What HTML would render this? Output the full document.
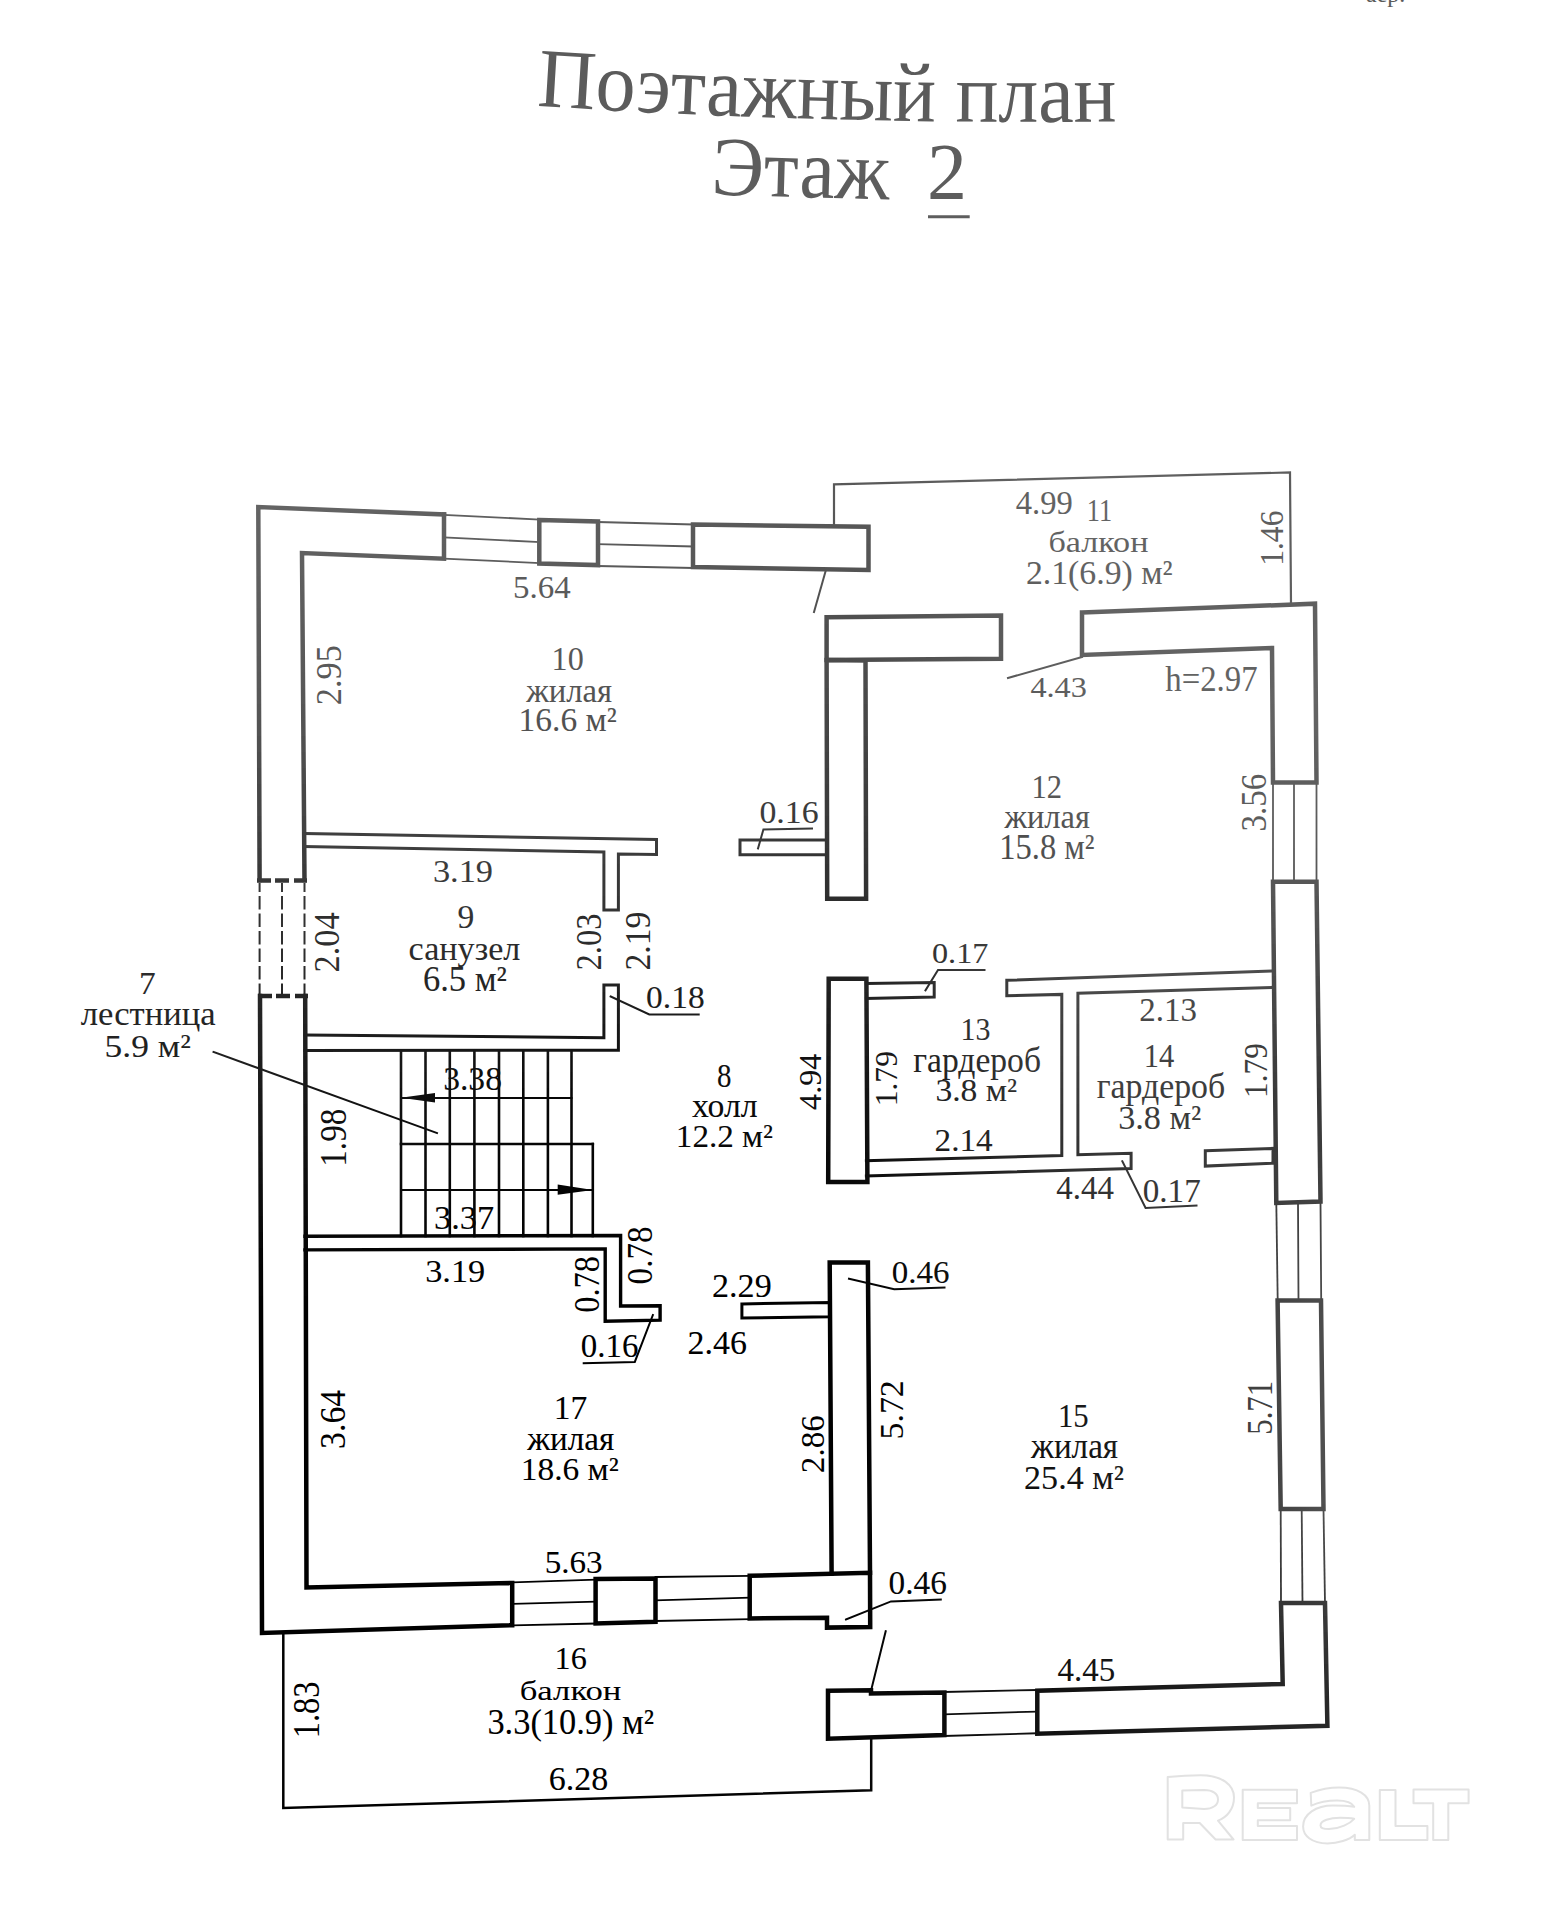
<!DOCTYPE html><html><head><meta charset="utf-8"><style>html,body{margin:0;padding:0;background:#fff;width:1550px;height:1925px;overflow:hidden}svg{position:absolute;left:0;top:0}.ink polyline,.ink polygon{fill:none;stroke:url(#sh);stroke-linejoin:miter;stroke-linecap:square}.ink polygon.f{fill:url(#sh);stroke:none}.ink text{font-family:"Liberation Serif",serif;fill:url(#sh)}</style></head><body>
<svg class="ink" width="1550" height="1925" viewBox="0 0 1550 1925">
<defs><linearGradient id="g0" gradientUnits="userSpaceOnUse" x1="0" y1="0" x2="1550" y2="0"><stop offset="0.0000" stop-color="#5a5a5a"/><stop offset="0.1613" stop-color="#5a5a5a"/><stop offset="0.3548" stop-color="#5a5a5a"/><stop offset="0.5484" stop-color="#5a5a5a"/><stop offset="0.7097" stop-color="#5a5a5a"/><stop offset="0.8516" stop-color="#5a5a5a"/><stop offset="1.0000" stop-color="#5a5a5a"/></linearGradient><linearGradient id="g1" gradientUnits="userSpaceOnUse" x1="0" y1="0" x2="1550" y2="0"><stop offset="0.0000" stop-color="#5a5a5a"/><stop offset="0.1613" stop-color="#5a5a5a"/><stop offset="0.3548" stop-color="#5a5a5a"/><stop offset="0.5484" stop-color="#5a5a5a"/><stop offset="0.7097" stop-color="#5a5a5a"/><stop offset="0.8516" stop-color="#5a5a5a"/><stop offset="1.0000" stop-color="#5a5a5a"/></linearGradient><linearGradient id="g2" gradientUnits="userSpaceOnUse" x1="0" y1="0" x2="1550" y2="0"><stop offset="0.0000" stop-color="#5b5b5b"/><stop offset="0.1613" stop-color="#5b5b5b"/><stop offset="0.3548" stop-color="#5b5b5b"/><stop offset="0.5484" stop-color="#5b5b5b"/><stop offset="0.7097" stop-color="#5b5b5b"/><stop offset="0.8516" stop-color="#5b5b5b"/><stop offset="1.0000" stop-color="#5b5b5b"/></linearGradient><linearGradient id="g3" gradientUnits="userSpaceOnUse" x1="0" y1="0" x2="1550" y2="0"><stop offset="0.0000" stop-color="#5b5b5b"/><stop offset="0.1613" stop-color="#5b5b5b"/><stop offset="0.3548" stop-color="#5b5b5b"/><stop offset="0.5484" stop-color="#5b5b5b"/><stop offset="0.7097" stop-color="#5b5b5b"/><stop offset="0.8516" stop-color="#5b5b5b"/><stop offset="1.0000" stop-color="#5b5b5b"/></linearGradient><linearGradient id="g4" gradientUnits="userSpaceOnUse" x1="0" y1="0" x2="1550" y2="0"><stop offset="0.0000" stop-color="#5b5b5b"/><stop offset="0.1613" stop-color="#5b5b5b"/><stop offset="0.3548" stop-color="#5b5b5b"/><stop offset="0.5484" stop-color="#5b5b5b"/><stop offset="0.7097" stop-color="#5b5b5b"/><stop offset="0.8516" stop-color="#5b5b5b"/><stop offset="1.0000" stop-color="#5b5b5b"/></linearGradient><linearGradient id="g5" gradientUnits="userSpaceOnUse" x1="0" y1="0" x2="1550" y2="0"><stop offset="0.0000" stop-color="#5b5b5b"/><stop offset="0.1613" stop-color="#5b5b5b"/><stop offset="0.3548" stop-color="#5b5b5b"/><stop offset="0.5484" stop-color="#5b5b5b"/><stop offset="0.7097" stop-color="#5b5b5b"/><stop offset="0.8516" stop-color="#5b5b5b"/><stop offset="1.0000" stop-color="#5b5b5b"/></linearGradient><linearGradient id="g6" gradientUnits="userSpaceOnUse" x1="0" y1="0" x2="1550" y2="0"><stop offset="0.0000" stop-color="#5c5c5c"/><stop offset="0.1613" stop-color="#5c5c5c"/><stop offset="0.3548" stop-color="#5c5c5c"/><stop offset="0.5484" stop-color="#5c5c5c"/><stop offset="0.7097" stop-color="#5c5c5c"/><stop offset="0.8516" stop-color="#5c5c5c"/><stop offset="1.0000" stop-color="#5c5c5c"/></linearGradient><linearGradient id="g7" gradientUnits="userSpaceOnUse" x1="0" y1="0" x2="1550" y2="0"><stop offset="0.0000" stop-color="#5c5c5c"/><stop offset="0.1613" stop-color="#5c5c5c"/><stop offset="0.3548" stop-color="#5c5c5c"/><stop offset="0.5484" stop-color="#5c5c5c"/><stop offset="0.7097" stop-color="#5c5c5c"/><stop offset="0.8516" stop-color="#5c5c5c"/><stop offset="1.0000" stop-color="#5c5c5c"/></linearGradient><linearGradient id="g8" gradientUnits="userSpaceOnUse" x1="0" y1="0" x2="1550" y2="0"><stop offset="0.0000" stop-color="#5c5c5c"/><stop offset="0.1613" stop-color="#5c5c5c"/><stop offset="0.3548" stop-color="#5c5c5c"/><stop offset="0.5484" stop-color="#5c5c5c"/><stop offset="0.7097" stop-color="#5c5c5c"/><stop offset="0.8516" stop-color="#5c5c5c"/><stop offset="1.0000" stop-color="#5c5c5c"/></linearGradient><linearGradient id="g9" gradientUnits="userSpaceOnUse" x1="0" y1="0" x2="1550" y2="0"><stop offset="0.0000" stop-color="#5d5d5d"/><stop offset="0.1613" stop-color="#5d5d5d"/><stop offset="0.3548" stop-color="#5d5d5d"/><stop offset="0.5484" stop-color="#5d5d5d"/><stop offset="0.7097" stop-color="#5d5d5d"/><stop offset="0.8516" stop-color="#5d5d5d"/><stop offset="1.0000" stop-color="#5d5d5d"/></linearGradient><linearGradient id="g10" gradientUnits="userSpaceOnUse" x1="0" y1="0" x2="1550" y2="0"><stop offset="0.0000" stop-color="#5d5d5d"/><stop offset="0.1613" stop-color="#5d5d5d"/><stop offset="0.3548" stop-color="#5d5d5d"/><stop offset="0.5484" stop-color="#5d5d5d"/><stop offset="0.7097" stop-color="#5d5d5d"/><stop offset="0.8516" stop-color="#5d5d5d"/><stop offset="1.0000" stop-color="#5d5d5d"/></linearGradient><linearGradient id="g11" gradientUnits="userSpaceOnUse" x1="0" y1="0" x2="1550" y2="0"><stop offset="0.0000" stop-color="#5d5d5d"/><stop offset="0.1613" stop-color="#5d5d5d"/><stop offset="0.3548" stop-color="#5d5d5d"/><stop offset="0.5484" stop-color="#5d5d5d"/><stop offset="0.7097" stop-color="#5d5d5d"/><stop offset="0.8516" stop-color="#5d5d5d"/><stop offset="1.0000" stop-color="#5d5d5d"/></linearGradient><linearGradient id="g12" gradientUnits="userSpaceOnUse" x1="0" y1="0" x2="1550" y2="0"><stop offset="0.0000" stop-color="#5d5d5d"/><stop offset="0.1613" stop-color="#5d5d5d"/><stop offset="0.3548" stop-color="#5d5d5d"/><stop offset="0.5484" stop-color="#5d5d5d"/><stop offset="0.7097" stop-color="#5d5d5d"/><stop offset="0.8516" stop-color="#5d5d5d"/><stop offset="1.0000" stop-color="#5d5d5d"/></linearGradient><linearGradient id="g13" gradientUnits="userSpaceOnUse" x1="0" y1="0" x2="1550" y2="0"><stop offset="0.0000" stop-color="#5e5e5e"/><stop offset="0.1613" stop-color="#5e5e5e"/><stop offset="0.3548" stop-color="#5e5e5e"/><stop offset="0.5484" stop-color="#5e5e5e"/><stop offset="0.7097" stop-color="#5e5e5e"/><stop offset="0.8516" stop-color="#5e5e5e"/><stop offset="1.0000" stop-color="#5e5e5e"/></linearGradient><linearGradient id="g14" gradientUnits="userSpaceOnUse" x1="0" y1="0" x2="1550" y2="0"><stop offset="0.0000" stop-color="#5e5e5e"/><stop offset="0.1613" stop-color="#5e5e5e"/><stop offset="0.3548" stop-color="#5e5e5e"/><stop offset="0.5484" stop-color="#5e5e5e"/><stop offset="0.7097" stop-color="#5e5e5e"/><stop offset="0.8516" stop-color="#5e5e5e"/><stop offset="1.0000" stop-color="#5e5e5e"/></linearGradient><linearGradient id="g15" gradientUnits="userSpaceOnUse" x1="0" y1="0" x2="1550" y2="0"><stop offset="0.0000" stop-color="#5e5e5e"/><stop offset="0.1613" stop-color="#5e5e5e"/><stop offset="0.3548" stop-color="#5e5e5e"/><stop offset="0.5484" stop-color="#5e5e5e"/><stop offset="0.7097" stop-color="#5e5e5e"/><stop offset="0.8516" stop-color="#5e5e5e"/><stop offset="1.0000" stop-color="#5e5e5e"/></linearGradient><linearGradient id="g16" gradientUnits="userSpaceOnUse" x1="0" y1="0" x2="1550" y2="0"><stop offset="0.0000" stop-color="#5e5e5e"/><stop offset="0.1613" stop-color="#5e5e5e"/><stop offset="0.3548" stop-color="#5e5e5e"/><stop offset="0.5484" stop-color="#5e5e5e"/><stop offset="0.7097" stop-color="#5e5e5e"/><stop offset="0.8516" stop-color="#5e5e5e"/><stop offset="1.0000" stop-color="#5e5e5e"/></linearGradient><linearGradient id="g17" gradientUnits="userSpaceOnUse" x1="0" y1="0" x2="1550" y2="0"><stop offset="0.0000" stop-color="#5f5f5f"/><stop offset="0.1613" stop-color="#5f5f5f"/><stop offset="0.3548" stop-color="#5f5f5f"/><stop offset="0.5484" stop-color="#5f5f5f"/><stop offset="0.7097" stop-color="#5f5f5f"/><stop offset="0.8516" stop-color="#5f5f5f"/><stop offset="1.0000" stop-color="#5f5f5f"/></linearGradient><linearGradient id="g18" gradientUnits="userSpaceOnUse" x1="0" y1="0" x2="1550" y2="0"><stop offset="0.0000" stop-color="#5f5f5f"/><stop offset="0.1613" stop-color="#5f5f5f"/><stop offset="0.3548" stop-color="#5f5f5f"/><stop offset="0.5484" stop-color="#5f5f5f"/><stop offset="0.7097" stop-color="#5f5f5f"/><stop offset="0.8516" stop-color="#5f5f5f"/><stop offset="1.0000" stop-color="#5f5f5f"/></linearGradient><linearGradient id="g19" gradientUnits="userSpaceOnUse" x1="0" y1="0" x2="1550" y2="0"><stop offset="0.0000" stop-color="#5f5f5f"/><stop offset="0.1613" stop-color="#5f5f5f"/><stop offset="0.3548" stop-color="#5f5f5f"/><stop offset="0.5484" stop-color="#5f5f5f"/><stop offset="0.7097" stop-color="#5f5f5f"/><stop offset="0.8516" stop-color="#5f5f5f"/><stop offset="1.0000" stop-color="#5f5f5f"/></linearGradient><linearGradient id="g20" gradientUnits="userSpaceOnUse" x1="0" y1="0" x2="1550" y2="0"><stop offset="0.0000" stop-color="#606060"/><stop offset="0.1613" stop-color="#606060"/><stop offset="0.3548" stop-color="#5f5f5f"/><stop offset="0.5484" stop-color="#5e5e5e"/><stop offset="0.7097" stop-color="#606060"/><stop offset="0.8516" stop-color="#5e5e5e"/><stop offset="1.0000" stop-color="#5e5e5e"/></linearGradient><linearGradient id="g21" gradientUnits="userSpaceOnUse" x1="0" y1="0" x2="1550" y2="0"><stop offset="0.0000" stop-color="#606060"/><stop offset="0.1613" stop-color="#606060"/><stop offset="0.3548" stop-color="#5f5f5f"/><stop offset="0.5484" stop-color="#5d5d5d"/><stop offset="0.7097" stop-color="#606060"/><stop offset="0.8516" stop-color="#5e5e5e"/><stop offset="1.0000" stop-color="#5e5e5e"/></linearGradient><linearGradient id="g22" gradientUnits="userSpaceOnUse" x1="0" y1="0" x2="1550" y2="0"><stop offset="0.0000" stop-color="#606060"/><stop offset="0.1613" stop-color="#606060"/><stop offset="0.3548" stop-color="#5f5f5f"/><stop offset="0.5484" stop-color="#5d5d5d"/><stop offset="0.7097" stop-color="#606060"/><stop offset="0.8516" stop-color="#5e5e5e"/><stop offset="1.0000" stop-color="#5e5e5e"/></linearGradient><linearGradient id="g23" gradientUnits="userSpaceOnUse" x1="0" y1="0" x2="1550" y2="0"><stop offset="0.0000" stop-color="#616161"/><stop offset="0.1613" stop-color="#616161"/><stop offset="0.3548" stop-color="#5f5f5f"/><stop offset="0.5484" stop-color="#5c5c5c"/><stop offset="0.7097" stop-color="#616161"/><stop offset="0.8516" stop-color="#5d5d5d"/><stop offset="1.0000" stop-color="#5d5d5d"/></linearGradient><linearGradient id="g24" gradientUnits="userSpaceOnUse" x1="0" y1="0" x2="1550" y2="0"><stop offset="0.0000" stop-color="#616161"/><stop offset="0.1613" stop-color="#616161"/><stop offset="0.3548" stop-color="#5f5f5f"/><stop offset="0.5484" stop-color="#5c5c5c"/><stop offset="0.7097" stop-color="#616161"/><stop offset="0.8516" stop-color="#5d5d5d"/><stop offset="1.0000" stop-color="#5d5d5d"/></linearGradient><linearGradient id="g25" gradientUnits="userSpaceOnUse" x1="0" y1="0" x2="1550" y2="0"><stop offset="0.0000" stop-color="#626262"/><stop offset="0.1613" stop-color="#626262"/><stop offset="0.3548" stop-color="#5f5f5f"/><stop offset="0.5484" stop-color="#5b5b5b"/><stop offset="0.7097" stop-color="#626262"/><stop offset="0.8516" stop-color="#5c5c5c"/><stop offset="1.0000" stop-color="#5c5c5c"/></linearGradient><linearGradient id="g26" gradientUnits="userSpaceOnUse" x1="0" y1="0" x2="1550" y2="0"><stop offset="0.0000" stop-color="#626262"/><stop offset="0.1613" stop-color="#626262"/><stop offset="0.3548" stop-color="#5f5f5f"/><stop offset="0.5484" stop-color="#5b5b5b"/><stop offset="0.7097" stop-color="#626262"/><stop offset="0.8516" stop-color="#5c5c5c"/><stop offset="1.0000" stop-color="#5c5c5c"/></linearGradient><linearGradient id="g27" gradientUnits="userSpaceOnUse" x1="0" y1="0" x2="1550" y2="0"><stop offset="0.0000" stop-color="#626262"/><stop offset="0.1613" stop-color="#626262"/><stop offset="0.3548" stop-color="#5f5f5f"/><stop offset="0.5484" stop-color="#5a5a5a"/><stop offset="0.7097" stop-color="#626262"/><stop offset="0.8516" stop-color="#5c5c5c"/><stop offset="1.0000" stop-color="#5c5c5c"/></linearGradient><linearGradient id="g28" gradientUnits="userSpaceOnUse" x1="0" y1="0" x2="1550" y2="0"><stop offset="0.0000" stop-color="#636363"/><stop offset="0.1613" stop-color="#636363"/><stop offset="0.3548" stop-color="#5f5f5f"/><stop offset="0.5484" stop-color="#5a5a5a"/><stop offset="0.7097" stop-color="#636363"/><stop offset="0.8516" stop-color="#5b5b5b"/><stop offset="1.0000" stop-color="#5b5b5b"/></linearGradient><linearGradient id="g29" gradientUnits="userSpaceOnUse" x1="0" y1="0" x2="1550" y2="0"><stop offset="0.0000" stop-color="#636363"/><stop offset="0.1613" stop-color="#636363"/><stop offset="0.3548" stop-color="#5f5f5f"/><stop offset="0.5484" stop-color="#595959"/><stop offset="0.7097" stop-color="#636363"/><stop offset="0.8516" stop-color="#5b5b5b"/><stop offset="1.0000" stop-color="#5b5b5b"/></linearGradient><linearGradient id="g30" gradientUnits="userSpaceOnUse" x1="0" y1="0" x2="1550" y2="0"><stop offset="0.0000" stop-color="#646464"/><stop offset="0.1613" stop-color="#646464"/><stop offset="0.3548" stop-color="#5f5f5f"/><stop offset="0.5484" stop-color="#585858"/><stop offset="0.7097" stop-color="#646464"/><stop offset="0.8516" stop-color="#5a5a5a"/><stop offset="1.0000" stop-color="#5a5a5a"/></linearGradient><linearGradient id="g31" gradientUnits="userSpaceOnUse" x1="0" y1="0" x2="1550" y2="0"><stop offset="0.0000" stop-color="#646464"/><stop offset="0.1613" stop-color="#646464"/><stop offset="0.3548" stop-color="#5f5f5f"/><stop offset="0.5484" stop-color="#585858"/><stop offset="0.7097" stop-color="#646464"/><stop offset="0.8516" stop-color="#5a5a5a"/><stop offset="1.0000" stop-color="#5a5a5a"/></linearGradient><linearGradient id="g32" gradientUnits="userSpaceOnUse" x1="0" y1="0" x2="1550" y2="0"><stop offset="0.0000" stop-color="#636363"/><stop offset="0.1613" stop-color="#636363"/><stop offset="0.3548" stop-color="#5e5e5e"/><stop offset="0.5484" stop-color="#565656"/><stop offset="0.7097" stop-color="#646464"/><stop offset="0.8516" stop-color="#5b5b5b"/><stop offset="1.0000" stop-color="#5b5b5b"/></linearGradient><linearGradient id="g33" gradientUnits="userSpaceOnUse" x1="0" y1="0" x2="1550" y2="0"><stop offset="0.0000" stop-color="#626262"/><stop offset="0.1613" stop-color="#626262"/><stop offset="0.3548" stop-color="#5d5d5d"/><stop offset="0.5484" stop-color="#555555"/><stop offset="0.7097" stop-color="#646464"/><stop offset="0.8516" stop-color="#5c5c5c"/><stop offset="1.0000" stop-color="#5c5c5c"/></linearGradient><linearGradient id="g34" gradientUnits="userSpaceOnUse" x1="0" y1="0" x2="1550" y2="0"><stop offset="0.0000" stop-color="#616161"/><stop offset="0.1613" stop-color="#616161"/><stop offset="0.3548" stop-color="#5c5c5c"/><stop offset="0.5484" stop-color="#545454"/><stop offset="0.7097" stop-color="#636363"/><stop offset="0.8516" stop-color="#5d5d5d"/><stop offset="1.0000" stop-color="#5d5d5d"/></linearGradient><linearGradient id="g35" gradientUnits="userSpaceOnUse" x1="0" y1="0" x2="1550" y2="0"><stop offset="0.0000" stop-color="#616161"/><stop offset="0.1613" stop-color="#606060"/><stop offset="0.3548" stop-color="#5c5c5c"/><stop offset="0.5484" stop-color="#535353"/><stop offset="0.7097" stop-color="#636363"/><stop offset="0.8516" stop-color="#5d5d5d"/><stop offset="1.0000" stop-color="#5d5d5d"/></linearGradient><linearGradient id="g36" gradientUnits="userSpaceOnUse" x1="0" y1="0" x2="1550" y2="0"><stop offset="0.0000" stop-color="#606060"/><stop offset="0.1613" stop-color="#5f5f5f"/><stop offset="0.3548" stop-color="#5b5b5b"/><stop offset="0.5484" stop-color="#515151"/><stop offset="0.7097" stop-color="#636363"/><stop offset="0.8516" stop-color="#5e5e5e"/><stop offset="1.0000" stop-color="#5e5e5e"/></linearGradient><linearGradient id="g37" gradientUnits="userSpaceOnUse" x1="0" y1="0" x2="1550" y2="0"><stop offset="0.0000" stop-color="#5f5f5f"/><stop offset="0.1613" stop-color="#5e5e5e"/><stop offset="0.3548" stop-color="#5a5a5a"/><stop offset="0.5484" stop-color="#505050"/><stop offset="0.7097" stop-color="#636363"/><stop offset="0.8516" stop-color="#5f5f5f"/><stop offset="1.0000" stop-color="#5f5f5f"/></linearGradient><linearGradient id="g38" gradientUnits="userSpaceOnUse" x1="0" y1="0" x2="1550" y2="0"><stop offset="0.0000" stop-color="#5e5e5e"/><stop offset="0.1613" stop-color="#5d5d5d"/><stop offset="0.3548" stop-color="#595959"/><stop offset="0.5484" stop-color="#4f4f4f"/><stop offset="0.7097" stop-color="#636363"/><stop offset="0.8516" stop-color="#606060"/><stop offset="1.0000" stop-color="#606060"/></linearGradient><linearGradient id="g39" gradientUnits="userSpaceOnUse" x1="0" y1="0" x2="1550" y2="0"><stop offset="0.0000" stop-color="#5d5d5d"/><stop offset="0.1613" stop-color="#5c5c5c"/><stop offset="0.3548" stop-color="#585858"/><stop offset="0.5484" stop-color="#4d4d4d"/><stop offset="0.7097" stop-color="#636363"/><stop offset="0.8516" stop-color="#616161"/><stop offset="1.0000" stop-color="#616161"/></linearGradient><linearGradient id="g40" gradientUnits="userSpaceOnUse" x1="0" y1="0" x2="1550" y2="0"><stop offset="0.0000" stop-color="#5d5d5d"/><stop offset="0.1613" stop-color="#5b5b5b"/><stop offset="0.3548" stop-color="#585858"/><stop offset="0.5484" stop-color="#4c4c4c"/><stop offset="0.7097" stop-color="#636363"/><stop offset="0.8516" stop-color="#616161"/><stop offset="1.0000" stop-color="#616161"/></linearGradient><linearGradient id="g41" gradientUnits="userSpaceOnUse" x1="0" y1="0" x2="1550" y2="0"><stop offset="0.0000" stop-color="#5c5c5c"/><stop offset="0.1613" stop-color="#5a5a5a"/><stop offset="0.3548" stop-color="#575757"/><stop offset="0.5484" stop-color="#4b4b4b"/><stop offset="0.7097" stop-color="#626262"/><stop offset="0.8516" stop-color="#626262"/><stop offset="1.0000" stop-color="#626262"/></linearGradient><linearGradient id="g42" gradientUnits="userSpaceOnUse" x1="0" y1="0" x2="1550" y2="0"><stop offset="0.0000" stop-color="#5b5b5b"/><stop offset="0.1613" stop-color="#595959"/><stop offset="0.3548" stop-color="#565656"/><stop offset="0.5484" stop-color="#4a4a4a"/><stop offset="0.7097" stop-color="#626262"/><stop offset="0.8516" stop-color="#636363"/><stop offset="1.0000" stop-color="#636363"/></linearGradient><linearGradient id="g43" gradientUnits="userSpaceOnUse" x1="0" y1="0" x2="1550" y2="0"><stop offset="0.0000" stop-color="#5a5a5a"/><stop offset="0.1613" stop-color="#585858"/><stop offset="0.3548" stop-color="#555555"/><stop offset="0.5484" stop-color="#484848"/><stop offset="0.7097" stop-color="#626262"/><stop offset="0.8516" stop-color="#646464"/><stop offset="1.0000" stop-color="#646464"/></linearGradient><linearGradient id="g44" gradientUnits="userSpaceOnUse" x1="0" y1="0" x2="1550" y2="0"><stop offset="0.0000" stop-color="#585858"/><stop offset="0.1613" stop-color="#565656"/><stop offset="0.3548" stop-color="#535353"/><stop offset="0.5484" stop-color="#464646"/><stop offset="0.7097" stop-color="#616161"/><stop offset="0.8516" stop-color="#636363"/><stop offset="1.0000" stop-color="#636363"/></linearGradient><linearGradient id="g45" gradientUnits="userSpaceOnUse" x1="0" y1="0" x2="1550" y2="0"><stop offset="0.0000" stop-color="#555555"/><stop offset="0.1613" stop-color="#535353"/><stop offset="0.3548" stop-color="#515151"/><stop offset="0.5484" stop-color="#444444"/><stop offset="0.7097" stop-color="#606060"/><stop offset="0.8516" stop-color="#626262"/><stop offset="1.0000" stop-color="#626262"/></linearGradient><linearGradient id="g46" gradientUnits="userSpaceOnUse" x1="0" y1="0" x2="1550" y2="0"><stop offset="0.0000" stop-color="#525252"/><stop offset="0.1613" stop-color="#505050"/><stop offset="0.3548" stop-color="#4e4e4e"/><stop offset="0.5484" stop-color="#424242"/><stop offset="0.7097" stop-color="#5f5f5f"/><stop offset="0.8516" stop-color="#616161"/><stop offset="1.0000" stop-color="#616161"/></linearGradient><linearGradient id="g47" gradientUnits="userSpaceOnUse" x1="0" y1="0" x2="1550" y2="0"><stop offset="0.0000" stop-color="#505050"/><stop offset="0.1613" stop-color="#4d4d4d"/><stop offset="0.3548" stop-color="#4c4c4c"/><stop offset="0.5484" stop-color="#404040"/><stop offset="0.7097" stop-color="#5e5e5e"/><stop offset="0.8516" stop-color="#606060"/><stop offset="1.0000" stop-color="#606060"/></linearGradient><linearGradient id="g48" gradientUnits="userSpaceOnUse" x1="0" y1="0" x2="1550" y2="0"><stop offset="0.0000" stop-color="#4d4d4d"/><stop offset="0.1613" stop-color="#4a4a4a"/><stop offset="0.3548" stop-color="#4a4a4a"/><stop offset="0.5484" stop-color="#3e3e3e"/><stop offset="0.7097" stop-color="#5d5d5d"/><stop offset="0.8516" stop-color="#5e5e5e"/><stop offset="1.0000" stop-color="#5e5e5e"/></linearGradient><linearGradient id="g49" gradientUnits="userSpaceOnUse" x1="0" y1="0" x2="1550" y2="0"><stop offset="0.0000" stop-color="#4a4a4a"/><stop offset="0.1613" stop-color="#474747"/><stop offset="0.3548" stop-color="#474747"/><stop offset="0.5484" stop-color="#3c3c3c"/><stop offset="0.7097" stop-color="#5c5c5c"/><stop offset="0.8516" stop-color="#5d5d5d"/><stop offset="1.0000" stop-color="#5d5d5d"/></linearGradient><linearGradient id="g50" gradientUnits="userSpaceOnUse" x1="0" y1="0" x2="1550" y2="0"><stop offset="0.0000" stop-color="#474747"/><stop offset="0.1613" stop-color="#454545"/><stop offset="0.3548" stop-color="#454545"/><stop offset="0.5484" stop-color="#393939"/><stop offset="0.7097" stop-color="#5b5b5b"/><stop offset="0.8516" stop-color="#5c5c5c"/><stop offset="1.0000" stop-color="#5c5c5c"/></linearGradient><linearGradient id="g51" gradientUnits="userSpaceOnUse" x1="0" y1="0" x2="1550" y2="0"><stop offset="0.0000" stop-color="#444444"/><stop offset="0.1613" stop-color="#424242"/><stop offset="0.3548" stop-color="#424242"/><stop offset="0.5484" stop-color="#373737"/><stop offset="0.7097" stop-color="#5a5a5a"/><stop offset="0.8516" stop-color="#5b5b5b"/><stop offset="1.0000" stop-color="#5b5b5b"/></linearGradient><linearGradient id="g52" gradientUnits="userSpaceOnUse" x1="0" y1="0" x2="1550" y2="0"><stop offset="0.0000" stop-color="#424242"/><stop offset="0.1613" stop-color="#3f3f3f"/><stop offset="0.3548" stop-color="#404040"/><stop offset="0.5484" stop-color="#353535"/><stop offset="0.7097" stop-color="#595959"/><stop offset="0.8516" stop-color="#5a5a5a"/><stop offset="1.0000" stop-color="#5a5a5a"/></linearGradient><linearGradient id="g53" gradientUnits="userSpaceOnUse" x1="0" y1="0" x2="1550" y2="0"><stop offset="0.0000" stop-color="#3f3f3f"/><stop offset="0.1613" stop-color="#3c3c3c"/><stop offset="0.3548" stop-color="#3e3e3e"/><stop offset="0.5484" stop-color="#333333"/><stop offset="0.7097" stop-color="#585858"/><stop offset="0.8516" stop-color="#585858"/><stop offset="1.0000" stop-color="#585858"/></linearGradient><linearGradient id="g54" gradientUnits="userSpaceOnUse" x1="0" y1="0" x2="1550" y2="0"><stop offset="0.0000" stop-color="#3c3c3c"/><stop offset="0.1613" stop-color="#393939"/><stop offset="0.3548" stop-color="#3b3b3b"/><stop offset="0.5484" stop-color="#313131"/><stop offset="0.7097" stop-color="#575757"/><stop offset="0.8516" stop-color="#575757"/><stop offset="1.0000" stop-color="#575757"/></linearGradient><linearGradient id="g55" gradientUnits="userSpaceOnUse" x1="0" y1="0" x2="1550" y2="0"><stop offset="0.0000" stop-color="#393939"/><stop offset="0.1613" stop-color="#363636"/><stop offset="0.3548" stop-color="#393939"/><stop offset="0.5484" stop-color="#2f2f2f"/><stop offset="0.7097" stop-color="#565656"/><stop offset="0.8516" stop-color="#565656"/><stop offset="1.0000" stop-color="#565656"/></linearGradient><linearGradient id="g56" gradientUnits="userSpaceOnUse" x1="0" y1="0" x2="1550" y2="0"><stop offset="0.0000" stop-color="#363636"/><stop offset="0.1613" stop-color="#333333"/><stop offset="0.3548" stop-color="#363636"/><stop offset="0.5484" stop-color="#2c2c2c"/><stop offset="0.7097" stop-color="#555555"/><stop offset="0.8516" stop-color="#545454"/><stop offset="1.0000" stop-color="#545454"/></linearGradient><linearGradient id="g57" gradientUnits="userSpaceOnUse" x1="0" y1="0" x2="1550" y2="0"><stop offset="0.0000" stop-color="#343434"/><stop offset="0.1613" stop-color="#313131"/><stop offset="0.3548" stop-color="#323232"/><stop offset="0.5484" stop-color="#2a2a2a"/><stop offset="0.7097" stop-color="#535353"/><stop offset="0.8516" stop-color="#525252"/><stop offset="1.0000" stop-color="#525252"/></linearGradient><linearGradient id="g58" gradientUnits="userSpaceOnUse" x1="0" y1="0" x2="1550" y2="0"><stop offset="0.0000" stop-color="#323232"/><stop offset="0.1613" stop-color="#2f2f2f"/><stop offset="0.3548" stop-color="#2e2e2e"/><stop offset="0.5484" stop-color="#282828"/><stop offset="0.7097" stop-color="#515151"/><stop offset="0.8516" stop-color="#505050"/><stop offset="1.0000" stop-color="#505050"/></linearGradient><linearGradient id="g59" gradientUnits="userSpaceOnUse" x1="0" y1="0" x2="1550" y2="0"><stop offset="0.0000" stop-color="#2f2f2f"/><stop offset="0.1613" stop-color="#2d2d2d"/><stop offset="0.3548" stop-color="#2a2a2a"/><stop offset="0.5484" stop-color="#252525"/><stop offset="0.7097" stop-color="#4f4f4f"/><stop offset="0.8516" stop-color="#4d4d4d"/><stop offset="1.0000" stop-color="#4d4d4d"/></linearGradient><linearGradient id="g60" gradientUnits="userSpaceOnUse" x1="0" y1="0" x2="1550" y2="0"><stop offset="0.0000" stop-color="#2d2d2d"/><stop offset="0.1613" stop-color="#2b2b2b"/><stop offset="0.3548" stop-color="#262626"/><stop offset="0.5484" stop-color="#232323"/><stop offset="0.7097" stop-color="#4d4d4d"/><stop offset="0.8516" stop-color="#4b4b4b"/><stop offset="1.0000" stop-color="#4b4b4b"/></linearGradient><linearGradient id="g61" gradientUnits="userSpaceOnUse" x1="0" y1="0" x2="1550" y2="0"><stop offset="0.0000" stop-color="#2a2a2a"/><stop offset="0.1613" stop-color="#292929"/><stop offset="0.3548" stop-color="#222222"/><stop offset="0.5484" stop-color="#202020"/><stop offset="0.7097" stop-color="#4b4b4b"/><stop offset="0.8516" stop-color="#484848"/><stop offset="1.0000" stop-color="#484848"/></linearGradient><linearGradient id="g62" gradientUnits="userSpaceOnUse" x1="0" y1="0" x2="1550" y2="0"><stop offset="0.0000" stop-color="#282828"/><stop offset="0.1613" stop-color="#262626"/><stop offset="0.3548" stop-color="#1e1e1e"/><stop offset="0.5484" stop-color="#1e1e1e"/><stop offset="0.7097" stop-color="#4a4a4a"/><stop offset="0.8516" stop-color="#464646"/><stop offset="1.0000" stop-color="#464646"/></linearGradient><linearGradient id="g63" gradientUnits="userSpaceOnUse" x1="0" y1="0" x2="1550" y2="0"><stop offset="0.0000" stop-color="#262626"/><stop offset="0.1613" stop-color="#242424"/><stop offset="0.3548" stop-color="#1a1a1a"/><stop offset="0.5484" stop-color="#1c1c1c"/><stop offset="0.7097" stop-color="#484848"/><stop offset="0.8516" stop-color="#444444"/><stop offset="1.0000" stop-color="#444444"/></linearGradient><linearGradient id="g64" gradientUnits="userSpaceOnUse" x1="0" y1="0" x2="1550" y2="0"><stop offset="0.0000" stop-color="#232323"/><stop offset="0.1613" stop-color="#222222"/><stop offset="0.3548" stop-color="#161616"/><stop offset="0.5484" stop-color="#191919"/><stop offset="0.7097" stop-color="#464646"/><stop offset="0.8516" stop-color="#414141"/><stop offset="1.0000" stop-color="#414141"/></linearGradient><linearGradient id="g65" gradientUnits="userSpaceOnUse" x1="0" y1="0" x2="1550" y2="0"><stop offset="0.0000" stop-color="#212121"/><stop offset="0.1613" stop-color="#202020"/><stop offset="0.3548" stop-color="#121212"/><stop offset="0.5484" stop-color="#171717"/><stop offset="0.7097" stop-color="#444444"/><stop offset="0.8516" stop-color="#3f3f3f"/><stop offset="1.0000" stop-color="#3f3f3f"/></linearGradient><linearGradient id="g66" gradientUnits="userSpaceOnUse" x1="0" y1="0" x2="1550" y2="0"><stop offset="0.0000" stop-color="#1e1e1e"/><stop offset="0.1613" stop-color="#1e1e1e"/><stop offset="0.3548" stop-color="#0e0e0e"/><stop offset="0.5484" stop-color="#141414"/><stop offset="0.7097" stop-color="#424242"/><stop offset="0.8516" stop-color="#3c3c3c"/><stop offset="1.0000" stop-color="#3c3c3c"/></linearGradient><linearGradient id="g67" gradientUnits="userSpaceOnUse" x1="0" y1="0" x2="1550" y2="0"><stop offset="0.0000" stop-color="#1c1c1c"/><stop offset="0.1613" stop-color="#1c1c1c"/><stop offset="0.3548" stop-color="#0a0a0a"/><stop offset="0.5484" stop-color="#121212"/><stop offset="0.7097" stop-color="#404040"/><stop offset="0.8516" stop-color="#3a3a3a"/><stop offset="1.0000" stop-color="#3a3a3a"/></linearGradient><linearGradient id="g68" gradientUnits="userSpaceOnUse" x1="0" y1="0" x2="1550" y2="0"><stop offset="0.0000" stop-color="#1a1a1a"/><stop offset="0.1613" stop-color="#1a1a1a"/><stop offset="0.3548" stop-color="#060606"/><stop offset="0.5484" stop-color="#101010"/><stop offset="0.7097" stop-color="#3e3e3e"/><stop offset="0.8516" stop-color="#383838"/><stop offset="1.0000" stop-color="#383838"/></linearGradient><linearGradient id="g69" gradientUnits="userSpaceOnUse" x1="0" y1="0" x2="1550" y2="0"><stop offset="0.0000" stop-color="#181818"/><stop offset="0.1613" stop-color="#181818"/><stop offset="0.3548" stop-color="#050505"/><stop offset="0.5484" stop-color="#0e0e0e"/><stop offset="0.7097" stop-color="#3c3c3c"/><stop offset="0.8516" stop-color="#383838"/><stop offset="1.0000" stop-color="#383838"/></linearGradient><linearGradient id="g70" gradientUnits="userSpaceOnUse" x1="0" y1="0" x2="1550" y2="0"><stop offset="0.0000" stop-color="#161616"/><stop offset="0.1613" stop-color="#161616"/><stop offset="0.3548" stop-color="#040404"/><stop offset="0.5484" stop-color="#0d0d0d"/><stop offset="0.7097" stop-color="#3a3a3a"/><stop offset="0.8516" stop-color="#3a3a3a"/><stop offset="1.0000" stop-color="#3a3a3a"/></linearGradient><linearGradient id="g71" gradientUnits="userSpaceOnUse" x1="0" y1="0" x2="1550" y2="0"><stop offset="0.0000" stop-color="#141414"/><stop offset="0.1613" stop-color="#141414"/><stop offset="0.3548" stop-color="#040404"/><stop offset="0.5484" stop-color="#0c0c0c"/><stop offset="0.7097" stop-color="#383838"/><stop offset="0.8516" stop-color="#3b3b3b"/><stop offset="1.0000" stop-color="#3b3b3b"/></linearGradient><linearGradient id="g72" gradientUnits="userSpaceOnUse" x1="0" y1="0" x2="1550" y2="0"><stop offset="0.0000" stop-color="#121212"/><stop offset="0.1613" stop-color="#121212"/><stop offset="0.3548" stop-color="#040404"/><stop offset="0.5484" stop-color="#0a0a0a"/><stop offset="0.7097" stop-color="#363636"/><stop offset="0.8516" stop-color="#3d3d3d"/><stop offset="1.0000" stop-color="#3d3d3d"/></linearGradient><linearGradient id="g73" gradientUnits="userSpaceOnUse" x1="0" y1="0" x2="1550" y2="0"><stop offset="0.0000" stop-color="#101010"/><stop offset="0.1613" stop-color="#101010"/><stop offset="0.3548" stop-color="#030303"/><stop offset="0.5484" stop-color="#090909"/><stop offset="0.7097" stop-color="#343434"/><stop offset="0.8516" stop-color="#3f3f3f"/><stop offset="1.0000" stop-color="#3f3f3f"/></linearGradient><linearGradient id="g74" gradientUnits="userSpaceOnUse" x1="0" y1="0" x2="1550" y2="0"><stop offset="0.0000" stop-color="#0e0e0e"/><stop offset="0.1613" stop-color="#0e0e0e"/><stop offset="0.3548" stop-color="#030303"/><stop offset="0.5484" stop-color="#080808"/><stop offset="0.7097" stop-color="#323232"/><stop offset="0.8516" stop-color="#404040"/><stop offset="1.0000" stop-color="#404040"/></linearGradient><linearGradient id="g75" gradientUnits="userSpaceOnUse" x1="0" y1="0" x2="1550" y2="0"><stop offset="0.0000" stop-color="#0c0c0c"/><stop offset="0.1613" stop-color="#0c0c0c"/><stop offset="0.3548" stop-color="#020202"/><stop offset="0.5484" stop-color="#070707"/><stop offset="0.7097" stop-color="#2f2f2f"/><stop offset="0.8516" stop-color="#424242"/><stop offset="1.0000" stop-color="#424242"/></linearGradient><linearGradient id="g76" gradientUnits="userSpaceOnUse" x1="0" y1="0" x2="1550" y2="0"><stop offset="0.0000" stop-color="#0a0a0a"/><stop offset="0.1613" stop-color="#0a0a0a"/><stop offset="0.3548" stop-color="#020202"/><stop offset="0.5484" stop-color="#060606"/><stop offset="0.7097" stop-color="#2d2d2d"/><stop offset="0.8516" stop-color="#434343"/><stop offset="1.0000" stop-color="#434343"/></linearGradient><linearGradient id="g77" gradientUnits="userSpaceOnUse" x1="0" y1="0" x2="1550" y2="0"><stop offset="0.0000" stop-color="#080808"/><stop offset="0.1613" stop-color="#080808"/><stop offset="0.3548" stop-color="#020202"/><stop offset="0.5484" stop-color="#050505"/><stop offset="0.7097" stop-color="#2b2b2b"/><stop offset="0.8516" stop-color="#454545"/><stop offset="1.0000" stop-color="#454545"/></linearGradient><linearGradient id="g78" gradientUnits="userSpaceOnUse" x1="0" y1="0" x2="1550" y2="0"><stop offset="0.0000" stop-color="#050505"/><stop offset="0.1613" stop-color="#050505"/><stop offset="0.3548" stop-color="#010101"/><stop offset="0.5484" stop-color="#030303"/><stop offset="0.7097" stop-color="#292929"/><stop offset="0.8516" stop-color="#474747"/><stop offset="1.0000" stop-color="#474747"/></linearGradient><linearGradient id="g79" gradientUnits="userSpaceOnUse" x1="0" y1="0" x2="1550" y2="0"><stop offset="0.0000" stop-color="#040404"/><stop offset="0.1613" stop-color="#040404"/><stop offset="0.3548" stop-color="#010101"/><stop offset="0.5484" stop-color="#020202"/><stop offset="0.7097" stop-color="#272727"/><stop offset="0.8516" stop-color="#484848"/><stop offset="1.0000" stop-color="#484848"/></linearGradient><linearGradient id="g80" gradientUnits="userSpaceOnUse" x1="0" y1="0" x2="1550" y2="0"><stop offset="0.0000" stop-color="#020202"/><stop offset="0.1613" stop-color="#020202"/><stop offset="0.3548" stop-color="#000000"/><stop offset="0.5484" stop-color="#010101"/><stop offset="0.7097" stop-color="#252525"/><stop offset="0.8516" stop-color="#4a4a4a"/><stop offset="1.0000" stop-color="#4a4a4a"/></linearGradient><linearGradient id="g81" gradientUnits="userSpaceOnUse" x1="0" y1="0" x2="1550" y2="0"><stop offset="0.0000" stop-color="#000000"/><stop offset="0.1613" stop-color="#000000"/><stop offset="0.3548" stop-color="#000000"/><stop offset="0.5484" stop-color="#000000"/><stop offset="0.7097" stop-color="#232323"/><stop offset="0.8516" stop-color="#4b4b4b"/><stop offset="1.0000" stop-color="#4b4b4b"/></linearGradient><linearGradient id="g82" gradientUnits="userSpaceOnUse" x1="0" y1="0" x2="1550" y2="0"><stop offset="0.0000" stop-color="#000000"/><stop offset="0.1613" stop-color="#000000"/><stop offset="0.3548" stop-color="#000000"/><stop offset="0.5484" stop-color="#000000"/><stop offset="0.7097" stop-color="#222222"/><stop offset="0.8516" stop-color="#4c4c4c"/><stop offset="1.0000" stop-color="#4c4c4c"/></linearGradient><linearGradient id="g83" gradientUnits="userSpaceOnUse" x1="0" y1="0" x2="1550" y2="0"><stop offset="0.0000" stop-color="#000000"/><stop offset="0.1613" stop-color="#000000"/><stop offset="0.3548" stop-color="#000000"/><stop offset="0.5484" stop-color="#000000"/><stop offset="0.7097" stop-color="#202020"/><stop offset="0.8516" stop-color="#4c4c4c"/><stop offset="1.0000" stop-color="#4c4c4c"/></linearGradient><linearGradient id="g84" gradientUnits="userSpaceOnUse" x1="0" y1="0" x2="1550" y2="0"><stop offset="0.0000" stop-color="#000000"/><stop offset="0.1613" stop-color="#000000"/><stop offset="0.3548" stop-color="#000000"/><stop offset="0.5484" stop-color="#000000"/><stop offset="0.7097" stop-color="#1f1f1f"/><stop offset="0.8516" stop-color="#4c4c4c"/><stop offset="1.0000" stop-color="#4c4c4c"/></linearGradient><linearGradient id="g85" gradientUnits="userSpaceOnUse" x1="0" y1="0" x2="1550" y2="0"><stop offset="0.0000" stop-color="#000000"/><stop offset="0.1613" stop-color="#000000"/><stop offset="0.3548" stop-color="#000000"/><stop offset="0.5484" stop-color="#000000"/><stop offset="0.7097" stop-color="#1e1e1e"/><stop offset="0.8516" stop-color="#4d4d4d"/><stop offset="1.0000" stop-color="#4d4d4d"/></linearGradient><linearGradient id="g86" gradientUnits="userSpaceOnUse" x1="0" y1="0" x2="1550" y2="0"><stop offset="0.0000" stop-color="#000000"/><stop offset="0.1613" stop-color="#000000"/><stop offset="0.3548" stop-color="#000000"/><stop offset="0.5484" stop-color="#000000"/><stop offset="0.7097" stop-color="#1d1d1d"/><stop offset="0.8516" stop-color="#4d4d4d"/><stop offset="1.0000" stop-color="#4d4d4d"/></linearGradient><linearGradient id="g87" gradientUnits="userSpaceOnUse" x1="0" y1="0" x2="1550" y2="0"><stop offset="0.0000" stop-color="#000000"/><stop offset="0.1613" stop-color="#000000"/><stop offset="0.3548" stop-color="#000000"/><stop offset="0.5484" stop-color="#000000"/><stop offset="0.7097" stop-color="#1c1c1c"/><stop offset="0.8516" stop-color="#4e4e4e"/><stop offset="1.0000" stop-color="#4e4e4e"/></linearGradient><linearGradient id="g88" gradientUnits="userSpaceOnUse" x1="0" y1="0" x2="1550" y2="0"><stop offset="0.0000" stop-color="#000000"/><stop offset="0.1613" stop-color="#000000"/><stop offset="0.3548" stop-color="#000000"/><stop offset="0.5484" stop-color="#000000"/><stop offset="0.7097" stop-color="#1a1a1a"/><stop offset="0.8516" stop-color="#4e4e4e"/><stop offset="1.0000" stop-color="#4e4e4e"/></linearGradient><linearGradient id="g89" gradientUnits="userSpaceOnUse" x1="0" y1="0" x2="1550" y2="0"><stop offset="0.0000" stop-color="#000000"/><stop offset="0.1613" stop-color="#000000"/><stop offset="0.3548" stop-color="#000000"/><stop offset="0.5484" stop-color="#000000"/><stop offset="0.7097" stop-color="#191919"/><stop offset="0.8516" stop-color="#4e4e4e"/><stop offset="1.0000" stop-color="#4e4e4e"/></linearGradient><linearGradient id="g90" gradientUnits="userSpaceOnUse" x1="0" y1="0" x2="1550" y2="0"><stop offset="0.0000" stop-color="#000000"/><stop offset="0.1613" stop-color="#000000"/><stop offset="0.3548" stop-color="#000000"/><stop offset="0.5484" stop-color="#000000"/><stop offset="0.7097" stop-color="#181818"/><stop offset="0.8516" stop-color="#4f4f4f"/><stop offset="1.0000" stop-color="#4f4f4f"/></linearGradient><linearGradient id="g91" gradientUnits="userSpaceOnUse" x1="0" y1="0" x2="1550" y2="0"><stop offset="0.0000" stop-color="#000000"/><stop offset="0.1613" stop-color="#000000"/><stop offset="0.3548" stop-color="#000000"/><stop offset="0.5484" stop-color="#000000"/><stop offset="0.7097" stop-color="#171717"/><stop offset="0.8516" stop-color="#4f4f4f"/><stop offset="1.0000" stop-color="#4f4f4f"/></linearGradient><linearGradient id="g92" gradientUnits="userSpaceOnUse" x1="0" y1="0" x2="1550" y2="0"><stop offset="0.0000" stop-color="#000000"/><stop offset="0.1613" stop-color="#000000"/><stop offset="0.3548" stop-color="#000000"/><stop offset="0.5484" stop-color="#000000"/><stop offset="0.7097" stop-color="#161616"/><stop offset="0.8516" stop-color="#505050"/><stop offset="1.0000" stop-color="#505050"/></linearGradient><linearGradient id="g93" gradientUnits="userSpaceOnUse" x1="0" y1="0" x2="1550" y2="0"><stop offset="0.0000" stop-color="#000000"/><stop offset="0.1613" stop-color="#000000"/><stop offset="0.3548" stop-color="#000000"/><stop offset="0.5484" stop-color="#000000"/><stop offset="0.7097" stop-color="#141414"/><stop offset="0.8516" stop-color="#505050"/><stop offset="1.0000" stop-color="#505050"/></linearGradient><linearGradient id="g94" gradientUnits="userSpaceOnUse" x1="0" y1="0" x2="1550" y2="0"><stop offset="0.0000" stop-color="#000000"/><stop offset="0.1613" stop-color="#000000"/><stop offset="0.3548" stop-color="#000000"/><stop offset="0.5484" stop-color="#000000"/><stop offset="0.7097" stop-color="#141414"/><stop offset="0.8516" stop-color="#4e4e4e"/><stop offset="1.0000" stop-color="#4e4e4e"/></linearGradient><linearGradient id="g95" gradientUnits="userSpaceOnUse" x1="0" y1="0" x2="1550" y2="0"><stop offset="0.0000" stop-color="#000000"/><stop offset="0.1613" stop-color="#000000"/><stop offset="0.3548" stop-color="#000000"/><stop offset="0.5484" stop-color="#010101"/><stop offset="0.7097" stop-color="#141414"/><stop offset="0.8516" stop-color="#4a4a4a"/><stop offset="1.0000" stop-color="#4a4a4a"/></linearGradient><linearGradient id="g96" gradientUnits="userSpaceOnUse" x1="0" y1="0" x2="1550" y2="0"><stop offset="0.0000" stop-color="#000000"/><stop offset="0.1613" stop-color="#000000"/><stop offset="0.3548" stop-color="#000000"/><stop offset="0.5484" stop-color="#010101"/><stop offset="0.7097" stop-color="#141414"/><stop offset="0.8516" stop-color="#474747"/><stop offset="1.0000" stop-color="#474747"/></linearGradient><linearGradient id="g97" gradientUnits="userSpaceOnUse" x1="0" y1="0" x2="1550" y2="0"><stop offset="0.0000" stop-color="#000000"/><stop offset="0.1613" stop-color="#000000"/><stop offset="0.3548" stop-color="#000000"/><stop offset="0.5484" stop-color="#020202"/><stop offset="0.7097" stop-color="#141414"/><stop offset="0.8516" stop-color="#444444"/><stop offset="1.0000" stop-color="#444444"/></linearGradient><linearGradient id="g98" gradientUnits="userSpaceOnUse" x1="0" y1="0" x2="1550" y2="0"><stop offset="0.0000" stop-color="#000000"/><stop offset="0.1613" stop-color="#000000"/><stop offset="0.3548" stop-color="#000000"/><stop offset="0.5484" stop-color="#020202"/><stop offset="0.7097" stop-color="#141414"/><stop offset="0.8516" stop-color="#414141"/><stop offset="1.0000" stop-color="#414141"/></linearGradient><linearGradient id="g99" gradientUnits="userSpaceOnUse" x1="0" y1="0" x2="1550" y2="0"><stop offset="0.0000" stop-color="#000000"/><stop offset="0.1613" stop-color="#000000"/><stop offset="0.3548" stop-color="#000000"/><stop offset="0.5484" stop-color="#020202"/><stop offset="0.7097" stop-color="#141414"/><stop offset="0.8516" stop-color="#3e3e3e"/><stop offset="1.0000" stop-color="#3e3e3e"/></linearGradient><linearGradient id="g100" gradientUnits="userSpaceOnUse" x1="0" y1="0" x2="1550" y2="0"><stop offset="0.0000" stop-color="#000000"/><stop offset="0.1613" stop-color="#000000"/><stop offset="0.3548" stop-color="#000000"/><stop offset="0.5484" stop-color="#030303"/><stop offset="0.7097" stop-color="#141414"/><stop offset="0.8516" stop-color="#3a3a3a"/><stop offset="1.0000" stop-color="#3a3a3a"/></linearGradient><linearGradient id="g101" gradientUnits="userSpaceOnUse" x1="0" y1="0" x2="1550" y2="0"><stop offset="0.0000" stop-color="#000000"/><stop offset="0.1613" stop-color="#000000"/><stop offset="0.3548" stop-color="#000000"/><stop offset="0.5484" stop-color="#030303"/><stop offset="0.7097" stop-color="#141414"/><stop offset="0.8516" stop-color="#373737"/><stop offset="1.0000" stop-color="#373737"/></linearGradient><linearGradient id="g102" gradientUnits="userSpaceOnUse" x1="0" y1="0" x2="1550" y2="0"><stop offset="0.0000" stop-color="#000000"/><stop offset="0.1613" stop-color="#000000"/><stop offset="0.3548" stop-color="#000000"/><stop offset="0.5484" stop-color="#040404"/><stop offset="0.7097" stop-color="#141414"/><stop offset="0.8516" stop-color="#343434"/><stop offset="1.0000" stop-color="#343434"/></linearGradient><linearGradient id="g103" gradientUnits="userSpaceOnUse" x1="0" y1="0" x2="1550" y2="0"><stop offset="0.0000" stop-color="#000000"/><stop offset="0.1613" stop-color="#000000"/><stop offset="0.3548" stop-color="#000000"/><stop offset="0.5484" stop-color="#040404"/><stop offset="0.7097" stop-color="#141414"/><stop offset="0.8516" stop-color="#313131"/><stop offset="1.0000" stop-color="#313131"/></linearGradient><linearGradient id="g104" gradientUnits="userSpaceOnUse" x1="0" y1="0" x2="1550" y2="0"><stop offset="0.0000" stop-color="#000000"/><stop offset="0.1613" stop-color="#000000"/><stop offset="0.3548" stop-color="#000000"/><stop offset="0.5484" stop-color="#040404"/><stop offset="0.7097" stop-color="#141414"/><stop offset="0.8516" stop-color="#2e2e2e"/><stop offset="1.0000" stop-color="#2e2e2e"/></linearGradient><linearGradient id="g105" gradientUnits="userSpaceOnUse" x1="0" y1="0" x2="1550" y2="0"><stop offset="0.0000" stop-color="#000000"/><stop offset="0.1613" stop-color="#000000"/><stop offset="0.3548" stop-color="#000000"/><stop offset="0.5484" stop-color="#050505"/><stop offset="0.7097" stop-color="#141414"/><stop offset="0.8516" stop-color="#2a2a2a"/><stop offset="1.0000" stop-color="#2a2a2a"/></linearGradient><linearGradient id="g106" gradientUnits="userSpaceOnUse" x1="0" y1="0" x2="1550" y2="0"><stop offset="0.0000" stop-color="#000000"/><stop offset="0.1613" stop-color="#000000"/><stop offset="0.3548" stop-color="#000000"/><stop offset="0.5484" stop-color="#050505"/><stop offset="0.7097" stop-color="#141414"/><stop offset="0.8516" stop-color="#282828"/><stop offset="1.0000" stop-color="#282828"/></linearGradient><linearGradient id="g107" gradientUnits="userSpaceOnUse" x1="0" y1="0" x2="1550" y2="0"><stop offset="0.0000" stop-color="#000000"/><stop offset="0.1613" stop-color="#000000"/><stop offset="0.3548" stop-color="#000000"/><stop offset="0.5484" stop-color="#050505"/><stop offset="0.7097" stop-color="#141414"/><stop offset="0.8516" stop-color="#282828"/><stop offset="1.0000" stop-color="#282828"/></linearGradient><linearGradient id="g108" gradientUnits="userSpaceOnUse" x1="0" y1="0" x2="1550" y2="0"><stop offset="0.0000" stop-color="#000000"/><stop offset="0.1613" stop-color="#000000"/><stop offset="0.3548" stop-color="#000000"/><stop offset="0.5484" stop-color="#050505"/><stop offset="0.7097" stop-color="#141414"/><stop offset="0.8516" stop-color="#282828"/><stop offset="1.0000" stop-color="#282828"/></linearGradient><linearGradient id="g109" gradientUnits="userSpaceOnUse" x1="0" y1="0" x2="1550" y2="0"><stop offset="0.0000" stop-color="#000000"/><stop offset="0.1613" stop-color="#000000"/><stop offset="0.3548" stop-color="#000000"/><stop offset="0.5484" stop-color="#050505"/><stop offset="0.7097" stop-color="#141414"/><stop offset="0.8516" stop-color="#282828"/><stop offset="1.0000" stop-color="#282828"/></linearGradient><linearGradient id="g110" gradientUnits="userSpaceOnUse" x1="0" y1="0" x2="1550" y2="0"><stop offset="0.0000" stop-color="#000000"/><stop offset="0.1613" stop-color="#000000"/><stop offset="0.3548" stop-color="#000000"/><stop offset="0.5484" stop-color="#050505"/><stop offset="0.7097" stop-color="#141414"/><stop offset="0.8516" stop-color="#282828"/><stop offset="1.0000" stop-color="#282828"/></linearGradient><linearGradient id="g111" gradientUnits="userSpaceOnUse" x1="0" y1="0" x2="1550" y2="0"><stop offset="0.0000" stop-color="#000000"/><stop offset="0.1613" stop-color="#000000"/><stop offset="0.3548" stop-color="#000000"/><stop offset="0.5484" stop-color="#050505"/><stop offset="0.7097" stop-color="#141414"/><stop offset="0.8516" stop-color="#282828"/><stop offset="1.0000" stop-color="#282828"/></linearGradient><linearGradient id="g112" gradientUnits="userSpaceOnUse" x1="0" y1="0" x2="1550" y2="0"><stop offset="0.0000" stop-color="#000000"/><stop offset="0.1613" stop-color="#000000"/><stop offset="0.3548" stop-color="#000000"/><stop offset="0.5484" stop-color="#050505"/><stop offset="0.7097" stop-color="#141414"/><stop offset="0.8516" stop-color="#282828"/><stop offset="1.0000" stop-color="#282828"/></linearGradient><linearGradient id="g113" gradientUnits="userSpaceOnUse" x1="0" y1="0" x2="1550" y2="0"><stop offset="0.0000" stop-color="#000000"/><stop offset="0.1613" stop-color="#000000"/><stop offset="0.3548" stop-color="#000000"/><stop offset="0.5484" stop-color="#050505"/><stop offset="0.7097" stop-color="#141414"/><stop offset="0.8516" stop-color="#282828"/><stop offset="1.0000" stop-color="#282828"/></linearGradient><linearGradient id="g114" gradientUnits="userSpaceOnUse" x1="0" y1="0" x2="1550" y2="0"><stop offset="0.0000" stop-color="#000000"/><stop offset="0.1613" stop-color="#000000"/><stop offset="0.3548" stop-color="#000000"/><stop offset="0.5484" stop-color="#050505"/><stop offset="0.7097" stop-color="#141414"/><stop offset="0.8516" stop-color="#282828"/><stop offset="1.0000" stop-color="#282828"/></linearGradient><linearGradient id="g115" gradientUnits="userSpaceOnUse" x1="0" y1="0" x2="1550" y2="0"><stop offset="0.0000" stop-color="#000000"/><stop offset="0.1613" stop-color="#000000"/><stop offset="0.3548" stop-color="#000000"/><stop offset="0.5484" stop-color="#050505"/><stop offset="0.7097" stop-color="#141414"/><stop offset="0.8516" stop-color="#282828"/><stop offset="1.0000" stop-color="#282828"/></linearGradient><linearGradient id="g116" gradientUnits="userSpaceOnUse" x1="0" y1="0" x2="1550" y2="0"><stop offset="0.0000" stop-color="#000000"/><stop offset="0.1613" stop-color="#000000"/><stop offset="0.3548" stop-color="#000000"/><stop offset="0.5484" stop-color="#050505"/><stop offset="0.7097" stop-color="#141414"/><stop offset="0.8516" stop-color="#282828"/><stop offset="1.0000" stop-color="#282828"/></linearGradient><linearGradient id="g117" gradientUnits="userSpaceOnUse" x1="0" y1="0" x2="1550" y2="0"><stop offset="0.0000" stop-color="#000000"/><stop offset="0.1613" stop-color="#000000"/><stop offset="0.3548" stop-color="#000000"/><stop offset="0.5484" stop-color="#050505"/><stop offset="0.7097" stop-color="#141414"/><stop offset="0.8516" stop-color="#282828"/><stop offset="1.0000" stop-color="#282828"/></linearGradient><linearGradient id="g118" gradientUnits="userSpaceOnUse" x1="0" y1="0" x2="1550" y2="0"><stop offset="0.0000" stop-color="#000000"/><stop offset="0.1613" stop-color="#000000"/><stop offset="0.3548" stop-color="#000000"/><stop offset="0.5484" stop-color="#050505"/><stop offset="0.7097" stop-color="#141414"/><stop offset="0.8516" stop-color="#282828"/><stop offset="1.0000" stop-color="#282828"/></linearGradient><linearGradient id="g119" gradientUnits="userSpaceOnUse" x1="0" y1="0" x2="1550" y2="0"><stop offset="0.0000" stop-color="#000000"/><stop offset="0.1613" stop-color="#000000"/><stop offset="0.3548" stop-color="#000000"/><stop offset="0.5484" stop-color="#050505"/><stop offset="0.7097" stop-color="#141414"/><stop offset="0.8516" stop-color="#282828"/><stop offset="1.0000" stop-color="#282828"/></linearGradient><linearGradient id="g120" gradientUnits="userSpaceOnUse" x1="0" y1="0" x2="1550" y2="0"><stop offset="0.0000" stop-color="#000000"/><stop offset="0.1613" stop-color="#000000"/><stop offset="0.3548" stop-color="#000000"/><stop offset="0.5484" stop-color="#050505"/><stop offset="0.7097" stop-color="#141414"/><stop offset="0.8516" stop-color="#282828"/><stop offset="1.0000" stop-color="#282828"/></linearGradient><pattern id="sh" patternUnits="userSpaceOnUse" x="0" y="0" width="1550" height="1925"><rect x="0" y="0" width="1550" height="1925" fill="#000"/><rect x="0" y="0" width="1550" height="16" fill="url(#g0)"/><rect x="0" y="16" width="1550" height="16" fill="url(#g1)"/><rect x="0" y="32" width="1550" height="16" fill="url(#g2)"/><rect x="0" y="48" width="1550" height="16" fill="url(#g3)"/><rect x="0" y="64" width="1550" height="16" fill="url(#g4)"/><rect x="0" y="80" width="1550" height="16" fill="url(#g5)"/><rect x="0" y="96" width="1550" height="16" fill="url(#g6)"/><rect x="0" y="112" width="1550" height="16" fill="url(#g7)"/><rect x="0" y="128" width="1550" height="16" fill="url(#g8)"/><rect x="0" y="144" width="1550" height="16" fill="url(#g9)"/><rect x="0" y="160" width="1550" height="16" fill="url(#g10)"/><rect x="0" y="176" width="1550" height="16" fill="url(#g11)"/><rect x="0" y="192" width="1550" height="16" fill="url(#g12)"/><rect x="0" y="208" width="1550" height="16" fill="url(#g13)"/><rect x="0" y="224" width="1550" height="16" fill="url(#g14)"/><rect x="0" y="240" width="1550" height="16" fill="url(#g15)"/><rect x="0" y="256" width="1550" height="16" fill="url(#g16)"/><rect x="0" y="272" width="1550" height="16" fill="url(#g17)"/><rect x="0" y="288" width="1550" height="16" fill="url(#g18)"/><rect x="0" y="304" width="1550" height="16" fill="url(#g19)"/><rect x="0" y="320" width="1550" height="16" fill="url(#g20)"/><rect x="0" y="336" width="1550" height="16" fill="url(#g21)"/><rect x="0" y="352" width="1550" height="16" fill="url(#g22)"/><rect x="0" y="368" width="1550" height="16" fill="url(#g23)"/><rect x="0" y="384" width="1550" height="16" fill="url(#g24)"/><rect x="0" y="400" width="1550" height="16" fill="url(#g25)"/><rect x="0" y="416" width="1550" height="16" fill="url(#g26)"/><rect x="0" y="432" width="1550" height="16" fill="url(#g27)"/><rect x="0" y="448" width="1550" height="16" fill="url(#g28)"/><rect x="0" y="464" width="1550" height="16" fill="url(#g29)"/><rect x="0" y="480" width="1550" height="16" fill="url(#g30)"/><rect x="0" y="496" width="1550" height="16" fill="url(#g31)"/><rect x="0" y="512" width="1550" height="16" fill="url(#g32)"/><rect x="0" y="528" width="1550" height="16" fill="url(#g33)"/><rect x="0" y="544" width="1550" height="16" fill="url(#g34)"/><rect x="0" y="560" width="1550" height="16" fill="url(#g35)"/><rect x="0" y="576" width="1550" height="16" fill="url(#g36)"/><rect x="0" y="592" width="1550" height="16" fill="url(#g37)"/><rect x="0" y="608" width="1550" height="16" fill="url(#g38)"/><rect x="0" y="624" width="1550" height="16" fill="url(#g39)"/><rect x="0" y="640" width="1550" height="16" fill="url(#g40)"/><rect x="0" y="656" width="1550" height="16" fill="url(#g41)"/><rect x="0" y="672" width="1550" height="16" fill="url(#g42)"/><rect x="0" y="688" width="1550" height="16" fill="url(#g43)"/><rect x="0" y="704" width="1550" height="16" fill="url(#g44)"/><rect x="0" y="720" width="1550" height="16" fill="url(#g45)"/><rect x="0" y="736" width="1550" height="16" fill="url(#g46)"/><rect x="0" y="752" width="1550" height="16" fill="url(#g47)"/><rect x="0" y="768" width="1550" height="16" fill="url(#g48)"/><rect x="0" y="784" width="1550" height="16" fill="url(#g49)"/><rect x="0" y="800" width="1550" height="16" fill="url(#g50)"/><rect x="0" y="816" width="1550" height="16" fill="url(#g51)"/><rect x="0" y="832" width="1550" height="16" fill="url(#g52)"/><rect x="0" y="848" width="1550" height="16" fill="url(#g53)"/><rect x="0" y="864" width="1550" height="16" fill="url(#g54)"/><rect x="0" y="880" width="1550" height="16" fill="url(#g55)"/><rect x="0" y="896" width="1550" height="16" fill="url(#g56)"/><rect x="0" y="912" width="1550" height="16" fill="url(#g57)"/><rect x="0" y="928" width="1550" height="16" fill="url(#g58)"/><rect x="0" y="944" width="1550" height="16" fill="url(#g59)"/><rect x="0" y="960" width="1550" height="16" fill="url(#g60)"/><rect x="0" y="976" width="1550" height="16" fill="url(#g61)"/><rect x="0" y="992" width="1550" height="16" fill="url(#g62)"/><rect x="0" y="1008" width="1550" height="16" fill="url(#g63)"/><rect x="0" y="1024" width="1550" height="16" fill="url(#g64)"/><rect x="0" y="1040" width="1550" height="16" fill="url(#g65)"/><rect x="0" y="1056" width="1550" height="16" fill="url(#g66)"/><rect x="0" y="1072" width="1550" height="16" fill="url(#g67)"/><rect x="0" y="1088" width="1550" height="16" fill="url(#g68)"/><rect x="0" y="1104" width="1550" height="16" fill="url(#g69)"/><rect x="0" y="1120" width="1550" height="16" fill="url(#g70)"/><rect x="0" y="1136" width="1550" height="16" fill="url(#g71)"/><rect x="0" y="1152" width="1550" height="16" fill="url(#g72)"/><rect x="0" y="1168" width="1550" height="16" fill="url(#g73)"/><rect x="0" y="1184" width="1550" height="16" fill="url(#g74)"/><rect x="0" y="1200" width="1550" height="16" fill="url(#g75)"/><rect x="0" y="1216" width="1550" height="16" fill="url(#g76)"/><rect x="0" y="1232" width="1550" height="16" fill="url(#g77)"/><rect x="0" y="1248" width="1550" height="16" fill="url(#g78)"/><rect x="0" y="1264" width="1550" height="16" fill="url(#g79)"/><rect x="0" y="1280" width="1550" height="16" fill="url(#g80)"/><rect x="0" y="1296" width="1550" height="16" fill="url(#g81)"/><rect x="0" y="1312" width="1550" height="16" fill="url(#g82)"/><rect x="0" y="1328" width="1550" height="16" fill="url(#g83)"/><rect x="0" y="1344" width="1550" height="16" fill="url(#g84)"/><rect x="0" y="1360" width="1550" height="16" fill="url(#g85)"/><rect x="0" y="1376" width="1550" height="16" fill="url(#g86)"/><rect x="0" y="1392" width="1550" height="16" fill="url(#g87)"/><rect x="0" y="1408" width="1550" height="16" fill="url(#g88)"/><rect x="0" y="1424" width="1550" height="16" fill="url(#g89)"/><rect x="0" y="1440" width="1550" height="16" fill="url(#g90)"/><rect x="0" y="1456" width="1550" height="16" fill="url(#g91)"/><rect x="0" y="1472" width="1550" height="16" fill="url(#g92)"/><rect x="0" y="1488" width="1550" height="16" fill="url(#g93)"/><rect x="0" y="1504" width="1550" height="16" fill="url(#g94)"/><rect x="0" y="1520" width="1550" height="16" fill="url(#g95)"/><rect x="0" y="1536" width="1550" height="16" fill="url(#g96)"/><rect x="0" y="1552" width="1550" height="16" fill="url(#g97)"/><rect x="0" y="1568" width="1550" height="16" fill="url(#g98)"/><rect x="0" y="1584" width="1550" height="16" fill="url(#g99)"/><rect x="0" y="1600" width="1550" height="16" fill="url(#g100)"/><rect x="0" y="1616" width="1550" height="16" fill="url(#g101)"/><rect x="0" y="1632" width="1550" height="16" fill="url(#g102)"/><rect x="0" y="1648" width="1550" height="16" fill="url(#g103)"/><rect x="0" y="1664" width="1550" height="16" fill="url(#g104)"/><rect x="0" y="1680" width="1550" height="16" fill="url(#g105)"/><rect x="0" y="1696" width="1550" height="16" fill="url(#g106)"/><rect x="0" y="1712" width="1550" height="16" fill="url(#g107)"/><rect x="0" y="1728" width="1550" height="16" fill="url(#g108)"/><rect x="0" y="1744" width="1550" height="16" fill="url(#g109)"/><rect x="0" y="1760" width="1550" height="16" fill="url(#g110)"/><rect x="0" y="1776" width="1550" height="16" fill="url(#g111)"/><rect x="0" y="1792" width="1550" height="16" fill="url(#g112)"/><rect x="0" y="1808" width="1550" height="16" fill="url(#g113)"/><rect x="0" y="1824" width="1550" height="16" fill="url(#g114)"/><rect x="0" y="1840" width="1550" height="16" fill="url(#g115)"/><rect x="0" y="1856" width="1550" height="16" fill="url(#g116)"/><rect x="0" y="1872" width="1550" height="16" fill="url(#g117)"/><rect x="0" y="1888" width="1550" height="16" fill="url(#g118)"/><rect x="0" y="1904" width="1550" height="16" fill="url(#g119)"/><rect x="0" y="1920" width="1550" height="16" fill="url(#g120)"/></pattern></defs>
<path id="tp1" d="M537 105.8 Q820 124.5 1117 121.5" fill="none" stroke="none"/>
<text font-size="84" style="font-family:'Liberation Serif',serif"><textPath href="#tp1" textLength="580" lengthAdjust="spacingAndGlyphs">Поэтажный план</textPath></text>
<path id="tp2" d="M711 194.6 L888 199.6 L970 199.6" fill="none" stroke="none"/>
<text font-size="84" style="font-family:'Liberation Serif',serif"><textPath href="#tp2" textLength="178" lengthAdjust="spacingAndGlyphs">Этаж</textPath></text>
<text x="927" y="199.4" font-size="80">2</text>
<polyline points="929.5,216.8 968.2,216.8" stroke-width="3"/>
<text x="1366" y="2" font-size="24">аер.</text>
<polyline points="444,514.5 258.3,507 259.6,880" stroke-width="4.5"/>
<polyline points="444,514.5 444,558.7 302,553 304.5,880" stroke-width="4.5"/>
<polyline points="444,515 539.3,519.5" stroke-width="1.8"/>
<polyline points="444,537.4 539.3,542" stroke-width="1.8"/>
<polyline points="444,558.7 539.3,563" stroke-width="1.8"/>
<polygon points="539.3,520 598,521.4 598,565.1 539.3,563.5" stroke-width="4.5"/>
<polyline points="598,522 693,524.5" stroke-width="1.8"/>
<polyline points="598,544.2 693,546.5" stroke-width="1.8"/>
<polyline points="598,566 693,568" stroke-width="1.8"/>
<polygon points="693,524.6 868.5,526.7 868.5,570 693,567" stroke-width="4.5"/>
<polyline points="834,526 834,484.4 1290,472.5 1291,604" stroke-width="2.2"/>
<polyline points="825.5,571.4 814,612" stroke-width="2"/>
<polygon points="826.6,617.2 1001,615.4 1001,658.7 826.6,660" stroke-width="4.5"/>
<polygon points="826.6,660 865.5,660.5 866.1,898.8 827.2,898.8" stroke-width="4.5"/>
<polygon points="740,840 827,840 827,854.7 740,854.7" stroke-width="3"/>
<polygon points="1082,612.5 1315,603.7 1316.5,782.6 1273,782.6 1272,648 1082,655" stroke-width="4.5"/>
<polyline points="1082,657 1008,678" stroke-width="2"/>
<polyline points="1273,782.6 1273,881.7" stroke-width="1.8"/>
<polyline points="1294,782.6 1294,881.7" stroke-width="1.8"/>
<polyline points="1316.5,782.6 1316.5,881.7" stroke-width="1.8"/>
<polygon points="1273,881.7 1316.5,881.7 1320.5,1201.5 1276.3,1203" stroke-width="4.5"/>
<polyline points="1276.3,1203 1277.7,1300.5" stroke-width="1.8"/>
<polyline points="1298,1202 1298.5,1300.5" stroke-width="1.8"/>
<polyline points="1320.5,1201.5 1321.2,1300.5" stroke-width="1.8"/>
<polygon points="1277.6,1300.5 1321,1300.5 1323.5,1509 1280.7,1509" stroke-width="4.5"/>
<polyline points="1280.7,1509 1281,1603" stroke-width="1.8"/>
<polyline points="1301.7,1509 1302.5,1603" stroke-width="1.8"/>
<polyline points="1323.5,1509 1325,1603" stroke-width="1.8"/>
<polygon points="1281,1603 1325,1603 1327.4,1725.8 1037.3,1733.7 1037.3,1690.8 1282.7,1684" stroke-width="4.5"/>
<polyline points="944,1692 1036.5,1690" stroke-width="1.8"/>
<polyline points="944,1714.3 1036.5,1711.6" stroke-width="1.8"/>
<polyline points="944,1736 1036.5,1733.3" stroke-width="1.8"/>
<polygon points="828,1690.8 871,1690.3 871,1693.5 944.4,1692.6 944.4,1735 828,1738.7" stroke-width="4.5"/>
<polyline points="871.2,1738 871.2,1790.2 283.3,1808 283.3,1633" stroke-width="2.5"/>
<polyline points="885.7,1631.2 871.2,1690" stroke-width="2"/>
<polyline points="260,996 262,1633 512.2,1625.2 512.2,1583 306.5,1587.4 305.2,996" stroke-width="4.5"/>
<polyline points="513,1582.3 595.6,1579.7" stroke-width="1.8"/>
<polyline points="513,1603.8 595.6,1601.6" stroke-width="1.8"/>
<polyline points="513,1625.4 595.6,1623.5" stroke-width="1.8"/>
<polygon points="595.6,1578.9 655.5,1578.4 655.5,1621.7 595.6,1623.5" stroke-width="4.5"/>
<polyline points="655.5,1577 749.7,1575.8" stroke-width="1.8"/>
<polyline points="655.5,1600.3 749.7,1597.7" stroke-width="1.8"/>
<polyline points="655.5,1621 749.7,1619.2" stroke-width="1.8"/>
<polygon points="749.7,1575.8 870,1572.7 870.2,1627 827,1627.6 827,1617.7 749.7,1618.4" stroke-width="4.5"/>
<polyline points="831.6,1573.5 829.7,1262.6 867.9,1262.6 870,1572.7" stroke-width="4.5"/>
<polygon points="741.9,1303.9 829.7,1302.6 829.7,1316.8 741.9,1318" stroke-width="3"/>
<polygon points="828.7,978.7 866.4,978.7 867.4,1182 828.2,1182" stroke-width="4.5"/>
<polyline points="866.4,983.5 934.2,982.6 934.2,997.1 866.4,998.4" stroke-width="3"/>
<polyline points="1272.3,971 1006.8,980.3 1006.8,995.7 1061.8,994.4 1061.8,1155.6 866.4,1160.6" stroke-width="3"/>
<polyline points="1272.3,987.4 1077.9,993.2 1077.9,1154.8 1131.1,1153.2 1131.1,1168.5 866.4,1176" stroke-width="3"/>
<polygon points="1205.3,1150.8 1273,1148.4 1273,1163.2 1205.3,1166.1" stroke-width="3"/>
<polyline points="305,833.5 656.5,839.4 656.5,854.4 618.4,853.9 618.4,910 603.9,910 603.9,852 305,846.5" stroke-width="3"/>
<polyline points="305,1035 603.9,1037.7 603.9,985 618.4,985 618.4,1050.3 305,1050.5" stroke-width="3"/>
<polyline points="401,1050.5 401,1236" stroke-width="2.6"/>
<polyline points="425.5,1050.5 425.5,1236" stroke-width="2.6"/>
<polyline points="449.8,1050.5 449.8,1236" stroke-width="2.6"/>
<polyline points="474.4,1050.5 474.4,1236" stroke-width="2.6"/>
<polyline points="499,1050.5 499,1236" stroke-width="2.6"/>
<polyline points="523.3,1050.5 523.3,1236" stroke-width="2.6"/>
<polyline points="547.9,1050.5 547.9,1236" stroke-width="2.6"/>
<polyline points="571.5,1050.5 571.5,1236" stroke-width="2.6"/>
<polyline points="592.8,1144 592.8,1236" stroke-width="2.6"/>
<polyline points="401,1144 592.8,1144" stroke-width="2.6"/>
<polyline points="401,1098 571.5,1098" stroke-width="2"/>
<polyline points="401,1190 592.8,1190" stroke-width="2"/>
<polygon points="400.8,1097.8 435,1093 435,1102.6" class="f"/>
<polygon points="593,1190 557.7,1184.6 557.7,1194.8" class="f"/>
<polyline points="305,1236.2 620.6,1235.5 620.6,1306 660.1,1305.7 660.1,1320.1 605.2,1321.2 605.2,1248.9 305,1249.9" stroke-width="3.4"/>
<polyline points="259.6,883 259.6,994" stroke-width="2" stroke-dasharray="13.5 4" stroke-dashoffset="4.5" style="stroke-linecap:butt"/>
<polyline points="282,883 282,994" stroke-width="2" stroke-dasharray="13.5 4" stroke-dashoffset="4.5" style="stroke-linecap:butt"/>
<polyline points="304.5,883 304.5,994" stroke-width="2" stroke-dasharray="13.5 4" stroke-dashoffset="4.5" style="stroke-linecap:butt"/>
<polyline points="257,880.5 307,880.5" stroke-width="4.5" stroke-dasharray="14 4 14 5 13" style="stroke-linecap:butt"/>
<polyline points="258,996 308,996" stroke-width="4.5" stroke-dasharray="14 4 14 5 13" style="stroke-linecap:butt"/>
<polyline points="213.5,1052 437,1133" stroke-width="2"/>
<polyline points="758,848.4 763.4,829.4 812,828.5" stroke-width="2"/>
<polyline points="610.6,996.5 649.3,1014.5 698.7,1014.5" stroke-width="2"/>
<polyline points="925.5,990.3 938,970 984.5,970" stroke-width="2"/>
<polyline points="1122.3,1161.3 1145.6,1208 1196.5,1205.6" stroke-width="2"/>
<polyline points="652.9,1315 634.8,1361.9 583.7,1363.2" stroke-width="2"/>
<polyline points="849,1278.8 894.2,1289.2 944.5,1287.6" stroke-width="2"/>
<polyline points="846,1619.5 891,1601.4 940.8,1599.6" stroke-width="2"/>
<text x="1015.7" y="513.7" font-size="34.26" textLength="57.06" lengthAdjust="spacingAndGlyphs">4.99</text>
<text x="1086.7" y="521.2" font-size="32.58" textLength="25.40" lengthAdjust="spacingAndGlyphs">11</text>
<text x="1048.4" y="552" font-size="29.23" textLength="100.01" lengthAdjust="spacingAndGlyphs">балкон</text>
<text x="1025.9" y="583.9" font-size="33.21" textLength="146.83" lengthAdjust="spacingAndGlyphs">2.1(6.9) м²</text>
<text x="1030.4" y="697" font-size="30.19" textLength="56.43" lengthAdjust="spacingAndGlyphs">4.43</text>
<text x="1165.3" y="691.4" font-size="35.11" textLength="92.28" lengthAdjust="spacingAndGlyphs">h=2.97</text>
<text x="513.1" y="598.4" font-size="30.79" textLength="57.59" lengthAdjust="spacingAndGlyphs">5.64</text>
<text x="551.6" y="669.7" font-size="33.08" textLength="32.11" lengthAdjust="spacingAndGlyphs">10</text>
<text x="526.2" y="701.5" font-size="32.77" textLength="85.87" lengthAdjust="spacingAndGlyphs">жилая</text>
<text x="518.6" y="731.1" font-size="33.06" textLength="98.08" lengthAdjust="spacingAndGlyphs">16.6 м²</text>
<text x="759.4" y="823" font-size="32.48" textLength="59.18" lengthAdjust="spacingAndGlyphs">0.16</text>
<text x="1031.5" y="797.5" font-size="34.11" textLength="30.55" lengthAdjust="spacingAndGlyphs">12</text>
<text x="1004.6" y="827.8" font-size="33.83" textLength="85.27" lengthAdjust="spacingAndGlyphs">жилая</text>
<text x="999.3" y="858.5" font-size="36.09" textLength="95.28" lengthAdjust="spacingAndGlyphs">15.8 м²</text>
<text x="432.9" y="882" font-size="30.79" textLength="60.11" lengthAdjust="spacingAndGlyphs">3.19</text>
<text x="457.4" y="928" font-size="33.21" textLength="16.84" lengthAdjust="spacingAndGlyphs">9</text>
<text x="408.6" y="960.2" font-size="34.04" textLength="111.77" lengthAdjust="spacingAndGlyphs">санузел</text>
<text x="422.9" y="990.6" font-size="35.02" textLength="83.95" lengthAdjust="spacingAndGlyphs">6.5 м²</text>
<text x="646.1" y="1007.7" font-size="32.03" textLength="58.61" lengthAdjust="spacingAndGlyphs">0.18</text>
<text x="139.1" y="993.5" font-size="31.91" textLength="16.67" lengthAdjust="spacingAndGlyphs">7</text>
<text x="80.7" y="1025.4" font-size="33.83" textLength="134.90" lengthAdjust="spacingAndGlyphs">лестница</text>
<text x="104.6" y="1057" font-size="31.25" textLength="86.24" lengthAdjust="spacingAndGlyphs">5.9 м²</text>
<text x="443.2" y="1090.3" font-size="34.59" textLength="58.75" lengthAdjust="spacingAndGlyphs">3.38</text>
<text x="434" y="1228.5" font-size="34.72" textLength="60.06" lengthAdjust="spacingAndGlyphs">3.37</text>
<text x="716.9" y="1086.5" font-size="33.08" textLength="14.47" lengthAdjust="spacingAndGlyphs">8</text>
<text x="692" y="1116.8" font-size="34.47" textLength="65.66" lengthAdjust="spacingAndGlyphs">холл</text>
<text x="675.8" y="1147.1" font-size="32.15" textLength="97.25" lengthAdjust="spacingAndGlyphs">12.2 м²</text>
<text x="932" y="963.2" font-size="30.38" textLength="56.37" lengthAdjust="spacingAndGlyphs">0.17</text>
<text x="960.6" y="1039.7" font-size="30.64" textLength="29.91" lengthAdjust="spacingAndGlyphs">13</text>
<text x="913.3" y="1071.6" font-size="35.24" textLength="127.72" lengthAdjust="spacingAndGlyphs">гардероб</text>
<text x="935.4" y="1100.6" font-size="32.03" textLength="81.76" lengthAdjust="spacingAndGlyphs">3.8 м²</text>
<text x="934.5" y="1151" font-size="30.79" textLength="58.20" lengthAdjust="spacingAndGlyphs">2.14</text>
<text x="1139.3" y="1021" font-size="34.11" textLength="57.60" lengthAdjust="spacingAndGlyphs">2.13</text>
<text x="1143.8" y="1067" font-size="33.03" textLength="30.53" lengthAdjust="spacingAndGlyphs">14</text>
<text x="1096.7" y="1098.4" font-size="34.97" textLength="128.54" lengthAdjust="spacingAndGlyphs">гардероб</text>
<text x="1118.2" y="1129" font-size="33.83" textLength="83.10" lengthAdjust="spacingAndGlyphs">3.8 м²</text>
<text x="1056.3" y="1199.2" font-size="33.16" textLength="57.55" lengthAdjust="spacingAndGlyphs">4.44</text>
<text x="1142.8" y="1201.6" font-size="33.98" textLength="57.93" lengthAdjust="spacingAndGlyphs">0.17</text>
<text x="425.2" y="1281.7" font-size="31.55" textLength="60.00" lengthAdjust="spacingAndGlyphs">3.19</text>
<text x="580.8" y="1356.8" font-size="33.08" textLength="57.62" lengthAdjust="spacingAndGlyphs">0.16</text>
<text x="712" y="1296.6" font-size="33.81" textLength="59.70" lengthAdjust="spacingAndGlyphs">2.29</text>
<text x="687.5" y="1353.7" font-size="34.26" textLength="59.34" lengthAdjust="spacingAndGlyphs">2.46</text>
<text x="891.7" y="1282.7" font-size="32.18" textLength="57.73" lengthAdjust="spacingAndGlyphs">0.46</text>
<text x="553.7" y="1418.8" font-size="33.33" textLength="33.54" lengthAdjust="spacingAndGlyphs">17</text>
<text x="527.2" y="1449.5" font-size="32.77" textLength="87.08" lengthAdjust="spacingAndGlyphs">жилая</text>
<text x="520.8" y="1480.2" font-size="31.43" textLength="97.98" lengthAdjust="spacingAndGlyphs">18.6 м²</text>
<text x="1058" y="1427.2" font-size="34.39" textLength="30.72" lengthAdjust="spacingAndGlyphs">15</text>
<text x="1031" y="1457.6" font-size="35.11" textLength="87.08" lengthAdjust="spacingAndGlyphs">жилая</text>
<text x="1024.1" y="1488.6" font-size="33.51" textLength="99.90" lengthAdjust="spacingAndGlyphs">25.4 м²</text>
<text x="544.7" y="1572.7" font-size="32.30" textLength="57.93" lengthAdjust="spacingAndGlyphs">5.63</text>
<text x="888.6" y="1594.2" font-size="32.63" textLength="58.25" lengthAdjust="spacingAndGlyphs">0.46</text>
<text x="1057.6" y="1680.6" font-size="32.85" textLength="57.68" lengthAdjust="spacingAndGlyphs">4.45</text>
<text x="554.6" y="1668.7" font-size="32.00" textLength="32.18" lengthAdjust="spacingAndGlyphs">16</text>
<text x="519.7" y="1700.2" font-size="27.83" textLength="101.75" lengthAdjust="spacingAndGlyphs">балкон</text>
<text x="487.4" y="1733.7" font-size="34.89" textLength="166.76" lengthAdjust="spacingAndGlyphs">3.3(10.9) м²</text>
<text x="548.8" y="1790" font-size="33.08" textLength="59.52" lengthAdjust="spacingAndGlyphs">6.28</text>
<text transform="translate(1283 565.8) rotate(-90)" font-size="33.21" textLength="55.21" lengthAdjust="spacingAndGlyphs" style="fill:#5e5e5e">1.46</text>
<text transform="translate(340.6 705.2) rotate(-90)" font-size="34.87" textLength="60.02" lengthAdjust="spacingAndGlyphs" style="fill:#595959">2.95</text>
<text transform="translate(1265.5 831.6) rotate(-90)" font-size="35.47" textLength="57.76" lengthAdjust="spacingAndGlyphs" style="fill:#5c5c5c">3.56</text>
<text transform="translate(338.7 972.5) rotate(-90)" font-size="34.89" textLength="60.06" lengthAdjust="spacingAndGlyphs" style="fill:#2e2e2e">2.04</text>
<text transform="translate(601 970.5) rotate(-90)" font-size="35.04" textLength="56.97" lengthAdjust="spacingAndGlyphs" style="fill:#2c2c2c">2.03</text>
<text transform="translate(650.3 970.5) rotate(-90)" font-size="35.17" textLength="58.96" lengthAdjust="spacingAndGlyphs" style="fill:#2b2b2b">2.19</text>
<text transform="translate(346 1166.7) rotate(-90)" font-size="37.89" textLength="57.94" lengthAdjust="spacingAndGlyphs" style="fill:#101010">1.98</text>
<text transform="translate(821 1109.9) rotate(-90)" font-size="32.15" textLength="56.22" lengthAdjust="spacingAndGlyphs" style="fill:#111111">4.94</text>
<text transform="translate(897.4 1106.3) rotate(-90)" font-size="32.15" textLength="55.22" lengthAdjust="spacingAndGlyphs" style="fill:#191919">1.79</text>
<text transform="translate(1267.4 1097.9) rotate(-90)" font-size="34.11" textLength="54.79" lengthAdjust="spacingAndGlyphs" style="fill:#3d3d3d">1.79</text>
<text transform="translate(598.7 1312.8) rotate(-90)" font-size="34.89" textLength="56.63" lengthAdjust="spacingAndGlyphs" style="fill:#000000">0.78</text>
<text transform="translate(651.6 1284.4) rotate(-90)" font-size="34.89" textLength="57.99" lengthAdjust="spacingAndGlyphs" style="fill:#020202">0.78</text>
<text transform="translate(345 1448.9) rotate(-90)" font-size="36.53" textLength="59.11" lengthAdjust="spacingAndGlyphs" style="fill:#000000">3.64</text>
<text transform="translate(823.6 1473.2) rotate(-90)" font-size="34.14" textLength="58.09" lengthAdjust="spacingAndGlyphs" style="fill:#000000">2.86</text>
<text transform="translate(903 1439.5) rotate(-90)" font-size="33.21" textLength="59.31" lengthAdjust="spacingAndGlyphs" style="fill:#040404">5.72</text>
<text transform="translate(1271.6 1434.8) rotate(-90)" font-size="35.15" textLength="54.03" lengthAdjust="spacingAndGlyphs" style="fill:#404040">5.71</text>
<text transform="translate(318.7 1738.3) rotate(-90)" font-size="37.89" textLength="56.63" lengthAdjust="spacingAndGlyphs" style="fill:#000000">1.83</text>
</svg>
<svg width="1550" height="1925" viewBox="0 0 1550 1925" style="position:absolute;left:0;top:0"><g fill="none" stroke="#e2e2e2" stroke-width="2" stroke-linejoin="round"><path d="M1167.7,1777.1 C1178,1776 1190,1775.2 1200.6,1775.2 C1222,1775.2 1234,1785 1234,1797.5 C1234,1809 1227,1817.5 1218,1820.6 L1233.5,1839.5 L1215.6,1839.5 L1199.7,1823 L1183.2,1823 L1183.2,1839.5 L1167.7,1839.5 Z"/><path d="M1182.3,1790.6 L1204,1790 C1213,1790 1218,1794 1218,1799.4 C1218,1805 1213,1809 1204,1809 L1182.3,1807.6 Z"/><path d="M1242.7,1789.7 L1297,1789.7 L1297,1803.2 L1257.8,1803.2 L1257.8,1808 L1290.2,1808 L1290.2,1820.2 L1257.8,1820.2 L1257.8,1826 L1297,1826 L1297,1840 L1242.7,1840 Z"/><path d="M1310.7,1792.9 C1320,1789.5 1330,1787.6 1339.1,1787.6 C1358,1787.6 1369.3,1795 1369.3,1805.6 L1369.3,1839.9 L1354.8,1839.9 L1354.8,1834.7 C1349,1840 1338,1843.4 1327.5,1843.4 C1312,1843.4 1303.1,1836 1303.1,1826.5 C1303.1,1814 1316,1805.6 1333,1805.6 C1341,1805.6 1349,1806 1354.2,1806.8 C1352,1802.5 1345,1800.5 1337,1800.5 C1328,1800.5 1318,1802.5 1311.3,1805.6 Z"/><path d="M1320.5,1825.4 C1320.5,1820.5 1330,1817.8 1340,1817.8 C1346,1817.8 1351,1818.2 1354.2,1818.8 C1350,1823.5 1340,1829 1329,1829 C1323,1829 1320.5,1827.5 1320.5,1825.4 Z"/><path d="M1379.8,1790 L1395.5,1790 L1395.5,1826 L1427.4,1826 L1427.4,1839.9 L1379.8,1839.9 Z"/><path d="M1413.5,1789.4 L1468.6,1789.4 L1468.6,1803.3 L1448.3,1803.3 L1448.3,1839.9 L1433.2,1839.9 L1433.2,1803.3 L1413.5,1803.3 Z"/></g></svg>
</body></html>
